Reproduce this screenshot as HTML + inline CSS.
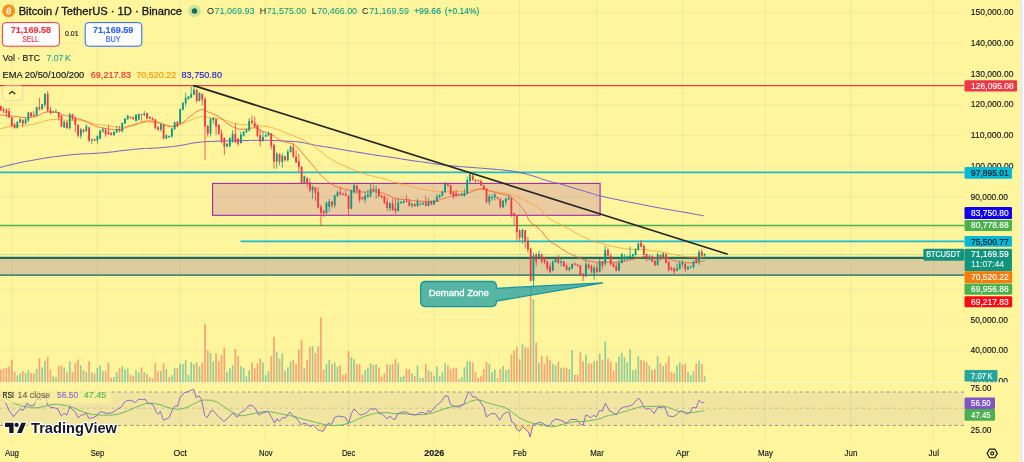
<!DOCTYPE html>
<html><head><meta charset="utf-8"><title>BTCUSDT chart</title>
<style>
html,body{margin:0;padding:0;background:#FFF59D;}
body{width:1024px;height:462px;overflow:hidden;position:relative;font-family:"Liberation Sans",sans-serif;}
svg text{font-family:"Liberation Sans",sans-serif;}
</style></head><body>
<svg width="1024" height="462" viewBox="0 0 1024 462" style="position:absolute;left:0;top:0;will-change:transform;transform:translateZ(0)">
<defs><clipPath id="cpMain"><rect x="0" y="0" width="964.5" height="382.5"/></clipPath><clipPath id="cpAx"><rect x="964" y="0" width="60" height="382.3"/></clipPath></defs>
<rect x="0" y="0" width="1024" height="462" fill="#FFFFFF"/>
<path d="M1016 0H1020.5Q1022.8 0.3 1022.8 3V462H1016Z" fill="#E9E9EE"/>
<path d="M0 0H1018Q1020 0 1020 2V462H0Z" fill="#FFF59D"/>
<line x1="11.8" y1="0" x2="11.8" y2="443" stroke="#787B86" stroke-width="1" opacity=".1"/>
<line x1="97.4" y1="0" x2="97.4" y2="443" stroke="#787B86" stroke-width="1" opacity=".1"/>
<line x1="180.2" y1="0" x2="180.2" y2="443" stroke="#787B86" stroke-width="1" opacity=".1"/>
<line x1="265.7" y1="0" x2="265.7" y2="443" stroke="#787B86" stroke-width="1" opacity=".1"/>
<line x1="348.5" y1="0" x2="348.5" y2="443" stroke="#787B86" stroke-width="1" opacity=".1"/>
<line x1="434.1" y1="0" x2="434.1" y2="443" stroke="#787B86" stroke-width="1" opacity=".1"/>
<line x1="519.6" y1="0" x2="519.6" y2="443" stroke="#787B86" stroke-width="1" opacity=".1"/>
<line x1="596.9" y1="0" x2="596.9" y2="443" stroke="#787B86" stroke-width="1" opacity=".1"/>
<line x1="682.5" y1="0" x2="682.5" y2="443" stroke="#787B86" stroke-width="1" opacity=".1"/>
<line x1="765.3" y1="0" x2="765.3" y2="443" stroke="#787B86" stroke-width="1" opacity=".1"/>
<line x1="850.8" y1="0" x2="850.8" y2="443" stroke="#787B86" stroke-width="1" opacity=".1"/>
<line x1="933.6" y1="0" x2="933.6" y2="443" stroke="#787B86" stroke-width="1" opacity=".1"/>
<line x1="0" y1="350.8" x2="964" y2="350.8" stroke="#787B86" stroke-width="1" opacity=".08"/>
<line x1="0" y1="320.0" x2="964" y2="320.0" stroke="#787B86" stroke-width="1" opacity=".08"/>
<line x1="0" y1="289.2" x2="964" y2="289.2" stroke="#787B86" stroke-width="1" opacity=".08"/>
<line x1="0" y1="258.5" x2="964" y2="258.5" stroke="#787B86" stroke-width="1" opacity=".08"/>
<line x1="0" y1="227.8" x2="964" y2="227.8" stroke="#787B86" stroke-width="1" opacity=".08"/>
<line x1="0" y1="197.0" x2="964" y2="197.0" stroke="#787B86" stroke-width="1" opacity=".08"/>
<line x1="0" y1="166.2" x2="964" y2="166.2" stroke="#787B86" stroke-width="1" opacity=".08"/>
<line x1="0" y1="135.5" x2="964" y2="135.5" stroke="#787B86" stroke-width="1" opacity=".08"/>
<line x1="0" y1="104.8" x2="964" y2="104.8" stroke="#787B86" stroke-width="1" opacity=".08"/>
<line x1="0" y1="74.0" x2="964" y2="74.0" stroke="#787B86" stroke-width="1" opacity=".08"/>
<line x1="0" y1="43.2" x2="964" y2="43.2" stroke="#787B86" stroke-width="1" opacity=".08"/>
<line x1="0" y1="12.5" x2="964" y2="12.5" stroke="#787B86" stroke-width="1" opacity=".08"/>
<rect x="0" y="382" width="1020" height="1" fill="#FBF7C8"/>
<g clip-path="url(#cpMain)">
<rect x="-0.09" y="369.44" width="1.7" height="12.86" fill="#EF5350" fill-opacity=".5"/>
<rect x="2.67" y="368.30" width="1.7" height="14.00" fill="#EF5350" fill-opacity=".5"/>
<rect x="5.43" y="367.73" width="1.7" height="14.57" fill="#EF5350" fill-opacity=".5"/>
<rect x="8.19" y="366.59" width="1.7" height="15.71" fill="#EF5350" fill-opacity=".5"/>
<rect x="10.95" y="359.73" width="1.7" height="22.57" fill="#EF5350" fill-opacity=".5"/>
<rect x="13.71" y="372.01" width="1.7" height="10.29" fill="#EF5350" fill-opacity=".5"/>
<rect x="16.47" y="375.16" width="1.7" height="7.14" fill="#26A69A" fill-opacity=".5"/>
<rect x="19.23" y="373.44" width="1.7" height="8.86" fill="#26A69A" fill-opacity=".5"/>
<rect x="21.99" y="371.16" width="1.7" height="11.14" fill="#EF5350" fill-opacity=".5"/>
<rect x="24.75" y="373.01" width="1.7" height="9.29" fill="#26A69A" fill-opacity=".5"/>
<rect x="27.51" y="370.16" width="1.7" height="12.14" fill="#26A69A" fill-opacity=".5"/>
<rect x="30.27" y="373.01" width="1.7" height="9.29" fill="#EF5350" fill-opacity=".5"/>
<rect x="33.03" y="373.44" width="1.7" height="8.86" fill="#EF5350" fill-opacity=".5"/>
<rect x="35.79" y="369.01" width="1.7" height="13.29" fill="#26A69A" fill-opacity=".5"/>
<rect x="38.55" y="358.30" width="1.7" height="24.00" fill="#EF5350" fill-opacity=".5"/>
<rect x="41.31" y="367.30" width="1.7" height="15.00" fill="#26A69A" fill-opacity=".5"/>
<rect x="44.07" y="360.87" width="1.7" height="21.43" fill="#26A69A" fill-opacity=".5"/>
<rect x="46.83" y="356.87" width="1.7" height="25.43" fill="#EF5350" fill-opacity=".5"/>
<rect x="49.59" y="369.44" width="1.7" height="12.86" fill="#EF5350" fill-opacity=".5"/>
<rect x="52.35" y="376.30" width="1.7" height="6.00" fill="#26A69A" fill-opacity=".5"/>
<rect x="55.11" y="377.01" width="1.7" height="5.29" fill="#26A69A" fill-opacity=".5"/>
<rect x="57.87" y="366.16" width="1.7" height="16.14" fill="#EF5350" fill-opacity=".5"/>
<rect x="60.63" y="365.44" width="1.7" height="16.86" fill="#EF5350" fill-opacity=".5"/>
<rect x="63.39" y="367.73" width="1.7" height="14.57" fill="#26A69A" fill-opacity=".5"/>
<rect x="66.15" y="372.30" width="1.7" height="10.00" fill="#EF5350" fill-opacity=".5"/>
<rect x="68.91" y="361.30" width="1.7" height="21.00" fill="#26A69A" fill-opacity=".5"/>
<rect x="71.67" y="371.87" width="1.7" height="10.43" fill="#EF5350" fill-opacity=".5"/>
<rect x="74.43" y="363.30" width="1.7" height="19.00" fill="#EF5350" fill-opacity=".5"/>
<rect x="77.19" y="359.44" width="1.7" height="22.86" fill="#EF5350" fill-opacity=".5"/>
<rect x="79.95" y="365.44" width="1.7" height="16.86" fill="#26A69A" fill-opacity=".5"/>
<rect x="82.71" y="370.16" width="1.7" height="12.14" fill="#EF5350" fill-opacity=".5"/>
<rect x="85.47" y="372.01" width="1.7" height="10.29" fill="#26A69A" fill-opacity=".5"/>
<rect x="88.23" y="361.30" width="1.7" height="21.00" fill="#EF5350" fill-opacity=".5"/>
<rect x="90.99" y="372.30" width="1.7" height="10.00" fill="#26A69A" fill-opacity=".5"/>
<rect x="93.75" y="373.44" width="1.7" height="8.86" fill="#EF5350" fill-opacity=".5"/>
<rect x="96.51" y="367.73" width="1.7" height="14.57" fill="#26A69A" fill-opacity=".5"/>
<rect x="99.27" y="365.44" width="1.7" height="16.86" fill="#26A69A" fill-opacity=".5"/>
<rect x="102.03" y="371.16" width="1.7" height="11.14" fill="#26A69A" fill-opacity=".5"/>
<rect x="104.79" y="371.16" width="1.7" height="11.14" fill="#EF5350" fill-opacity=".5"/>
<rect x="107.55" y="362.59" width="1.7" height="19.71" fill="#EF5350" fill-opacity=".5"/>
<rect x="110.31" y="377.59" width="1.7" height="4.71" fill="#EF5350" fill-opacity=".5"/>
<rect x="113.07" y="377.01" width="1.7" height="5.29" fill="#26A69A" fill-opacity=".5"/>
<rect x="115.83" y="371.87" width="1.7" height="10.43" fill="#26A69A" fill-opacity=".5"/>
<rect x="118.59" y="368.30" width="1.7" height="14.00" fill="#EF5350" fill-opacity=".5"/>
<rect x="121.35" y="366.16" width="1.7" height="16.14" fill="#26A69A" fill-opacity=".5"/>
<rect x="124.11" y="369.44" width="1.7" height="12.86" fill="#26A69A" fill-opacity=".5"/>
<rect x="126.87" y="368.30" width="1.7" height="14.00" fill="#26A69A" fill-opacity=".5"/>
<rect x="129.63" y="374.73" width="1.7" height="7.57" fill="#EF5350" fill-opacity=".5"/>
<rect x="132.39" y="375.87" width="1.7" height="6.43" fill="#EF5350" fill-opacity=".5"/>
<rect x="135.15" y="370.16" width="1.7" height="12.14" fill="#26A69A" fill-opacity=".5"/>
<rect x="137.91" y="372.30" width="1.7" height="10.00" fill="#26A69A" fill-opacity=".5"/>
<rect x="140.67" y="367.30" width="1.7" height="15.00" fill="#EF5350" fill-opacity=".5"/>
<rect x="143.43" y="372.01" width="1.7" height="10.29" fill="#26A69A" fill-opacity=".5"/>
<rect x="146.19" y="374.01" width="1.7" height="8.29" fill="#EF5350" fill-opacity=".5"/>
<rect x="148.95" y="377.30" width="1.7" height="5.00" fill="#26A69A" fill-opacity=".5"/>
<rect x="151.71" y="378.01" width="1.7" height="4.29" fill="#EF5350" fill-opacity=".5"/>
<rect x="154.47" y="363.30" width="1.7" height="19.00" fill="#EF5350" fill-opacity=".5"/>
<rect x="157.23" y="371.16" width="1.7" height="11.14" fill="#EF5350" fill-opacity=".5"/>
<rect x="159.99" y="370.59" width="1.7" height="11.71" fill="#26A69A" fill-opacity=".5"/>
<rect x="162.75" y="363.30" width="1.7" height="19.00" fill="#EF5350" fill-opacity=".5"/>
<rect x="165.51" y="369.01" width="1.7" height="13.29" fill="#26A69A" fill-opacity=".5"/>
<rect x="168.27" y="377.01" width="1.7" height="5.29" fill="#EF5350" fill-opacity=".5"/>
<rect x="171.03" y="375.16" width="1.7" height="7.14" fill="#26A69A" fill-opacity=".5"/>
<rect x="173.79" y="367.73" width="1.7" height="14.57" fill="#26A69A" fill-opacity=".5"/>
<rect x="176.55" y="368.01" width="1.7" height="14.29" fill="#EF5350" fill-opacity=".5"/>
<rect x="179.31" y="363.73" width="1.7" height="18.57" fill="#26A69A" fill-opacity=".5"/>
<rect x="182.07" y="364.16" width="1.7" height="18.14" fill="#26A69A" fill-opacity=".5"/>
<rect x="184.83" y="360.16" width="1.7" height="22.14" fill="#26A69A" fill-opacity=".5"/>
<rect x="187.59" y="374.73" width="1.7" height="7.57" fill="#26A69A" fill-opacity=".5"/>
<rect x="190.35" y="362.01" width="1.7" height="20.29" fill="#26A69A" fill-opacity=".5"/>
<rect x="193.11" y="364.16" width="1.7" height="18.14" fill="#26A69A" fill-opacity=".5"/>
<rect x="195.87" y="362.59" width="1.7" height="19.71" fill="#EF5350" fill-opacity=".5"/>
<rect x="198.63" y="366.59" width="1.7" height="15.71" fill="#26A69A" fill-opacity=".5"/>
<rect x="201.39" y="362.59" width="1.7" height="19.71" fill="#EF5350" fill-opacity=".5"/>
<rect x="204.15" y="324.01" width="1.7" height="58.29" fill="#EF5350" fill-opacity=".5"/>
<rect x="206.91" y="350.16" width="1.7" height="32.14" fill="#EF5350" fill-opacity=".5"/>
<rect x="209.67" y="353.01" width="1.7" height="29.29" fill="#26A69A" fill-opacity=".5"/>
<rect x="212.43" y="361.30" width="1.7" height="21.00" fill="#26A69A" fill-opacity=".5"/>
<rect x="215.19" y="353.30" width="1.7" height="29.00" fill="#EF5350" fill-opacity=".5"/>
<rect x="217.95" y="361.30" width="1.7" height="21.00" fill="#EF5350" fill-opacity=".5"/>
<rect x="220.71" y="355.16" width="1.7" height="27.14" fill="#EF5350" fill-opacity=".5"/>
<rect x="223.47" y="347.73" width="1.7" height="34.57" fill="#EF5350" fill-opacity=".5"/>
<rect x="226.23" y="371.87" width="1.7" height="10.43" fill="#26A69A" fill-opacity=".5"/>
<rect x="228.99" y="368.30" width="1.7" height="14.00" fill="#26A69A" fill-opacity=".5"/>
<rect x="231.75" y="364.87" width="1.7" height="17.43" fill="#26A69A" fill-opacity=".5"/>
<rect x="234.51" y="349.01" width="1.7" height="33.29" fill="#EF5350" fill-opacity=".5"/>
<rect x="237.27" y="356.16" width="1.7" height="26.14" fill="#EF5350" fill-opacity=".5"/>
<rect x="240.03" y="366.16" width="1.7" height="16.14" fill="#26A69A" fill-opacity=".5"/>
<rect x="242.79" y="368.30" width="1.7" height="14.00" fill="#26A69A" fill-opacity=".5"/>
<rect x="245.55" y="376.30" width="1.7" height="6.00" fill="#26A69A" fill-opacity=".5"/>
<rect x="248.31" y="370.16" width="1.7" height="12.14" fill="#26A69A" fill-opacity=".5"/>
<rect x="251.07" y="362.59" width="1.7" height="19.71" fill="#EF5350" fill-opacity=".5"/>
<rect x="253.83" y="368.01" width="1.7" height="14.29" fill="#EF5350" fill-opacity=".5"/>
<rect x="256.59" y="363.30" width="1.7" height="19.00" fill="#EF5350" fill-opacity=".5"/>
<rect x="259.35" y="358.73" width="1.7" height="23.57" fill="#EF5350" fill-opacity=".5"/>
<rect x="262.11" y="362.59" width="1.7" height="19.71" fill="#26A69A" fill-opacity=".5"/>
<rect x="264.87" y="375.16" width="1.7" height="7.14" fill="#26A69A" fill-opacity=".5"/>
<rect x="267.63" y="371.30" width="1.7" height="11.00" fill="#26A69A" fill-opacity=".5"/>
<rect x="270.39" y="356.16" width="1.7" height="26.14" fill="#EF5350" fill-opacity=".5"/>
<rect x="273.15" y="336.87" width="1.7" height="45.43" fill="#EF5350" fill-opacity=".5"/>
<rect x="275.91" y="351.87" width="1.7" height="30.43" fill="#26A69A" fill-opacity=".5"/>
<rect x="278.67" y="358.73" width="1.7" height="23.57" fill="#EF5350" fill-opacity=".5"/>
<rect x="281.43" y="353.30" width="1.7" height="29.00" fill="#26A69A" fill-opacity=".5"/>
<rect x="284.19" y="370.59" width="1.7" height="11.71" fill="#EF5350" fill-opacity=".5"/>
<rect x="286.95" y="367.30" width="1.7" height="15.00" fill="#26A69A" fill-opacity=".5"/>
<rect x="289.71" y="361.30" width="1.7" height="21.00" fill="#26A69A" fill-opacity=".5"/>
<rect x="292.47" y="360.16" width="1.7" height="22.14" fill="#EF5350" fill-opacity=".5"/>
<rect x="295.23" y="364.01" width="1.7" height="18.29" fill="#EF5350" fill-opacity=".5"/>
<rect x="297.99" y="349.44" width="1.7" height="32.86" fill="#EF5350" fill-opacity=".5"/>
<rect x="300.75" y="339.73" width="1.7" height="42.57" fill="#EF5350" fill-opacity=".5"/>
<rect x="303.51" y="368.30" width="1.7" height="14.00" fill="#26A69A" fill-opacity=".5"/>
<rect x="306.27" y="360.16" width="1.7" height="22.14" fill="#EF5350" fill-opacity=".5"/>
<rect x="309.03" y="346.59" width="1.7" height="35.71" fill="#EF5350" fill-opacity=".5"/>
<rect x="311.79" y="346.16" width="1.7" height="36.14" fill="#26A69A" fill-opacity=".5"/>
<rect x="314.55" y="353.01" width="1.7" height="29.29" fill="#EF5350" fill-opacity=".5"/>
<rect x="317.31" y="346.59" width="1.7" height="35.71" fill="#EF5350" fill-opacity=".5"/>
<rect x="320.07" y="317.30" width="1.7" height="65.00" fill="#EF5350" fill-opacity=".5"/>
<rect x="322.83" y="369.44" width="1.7" height="12.86" fill="#EF5350" fill-opacity=".5"/>
<rect x="325.59" y="364.16" width="1.7" height="18.14" fill="#26A69A" fill-opacity=".5"/>
<rect x="328.35" y="359.73" width="1.7" height="22.57" fill="#26A69A" fill-opacity=".5"/>
<rect x="331.11" y="364.16" width="1.7" height="18.14" fill="#EF5350" fill-opacity=".5"/>
<rect x="333.87" y="362.59" width="1.7" height="19.71" fill="#26A69A" fill-opacity=".5"/>
<rect x="336.63" y="366.59" width="1.7" height="15.71" fill="#26A69A" fill-opacity=".5"/>
<rect x="339.39" y="365.16" width="1.7" height="17.14" fill="#EF5350" fill-opacity=".5"/>
<rect x="342.15" y="375.16" width="1.7" height="7.14" fill="#EF5350" fill-opacity=".5"/>
<rect x="344.91" y="373.44" width="1.7" height="8.86" fill="#EF5350" fill-opacity=".5"/>
<rect x="347.67" y="351.16" width="1.7" height="31.14" fill="#EF5350" fill-opacity=".5"/>
<rect x="350.43" y="356.87" width="1.7" height="25.43" fill="#26A69A" fill-opacity=".5"/>
<rect x="353.19" y="359.16" width="1.7" height="23.14" fill="#26A69A" fill-opacity=".5"/>
<rect x="355.95" y="364.16" width="1.7" height="18.14" fill="#EF5350" fill-opacity=".5"/>
<rect x="358.71" y="364.16" width="1.7" height="18.14" fill="#EF5350" fill-opacity=".5"/>
<rect x="361.47" y="374.73" width="1.7" height="7.57" fill="#EF5350" fill-opacity=".5"/>
<rect x="364.23" y="370.16" width="1.7" height="12.14" fill="#26A69A" fill-opacity=".5"/>
<rect x="366.99" y="367.73" width="1.7" height="14.57" fill="#26A69A" fill-opacity=".5"/>
<rect x="369.75" y="363.30" width="1.7" height="19.00" fill="#26A69A" fill-opacity=".5"/>
<rect x="372.51" y="364.87" width="1.7" height="17.43" fill="#EF5350" fill-opacity=".5"/>
<rect x="375.27" y="364.16" width="1.7" height="18.14" fill="#26A69A" fill-opacity=".5"/>
<rect x="378.03" y="367.30" width="1.7" height="15.00" fill="#EF5350" fill-opacity=".5"/>
<rect x="380.79" y="376.87" width="1.7" height="5.43" fill="#EF5350" fill-opacity=".5"/>
<rect x="383.55" y="373.44" width="1.7" height="8.86" fill="#EF5350" fill-opacity=".5"/>
<rect x="386.31" y="364.16" width="1.7" height="18.14" fill="#EF5350" fill-opacity=".5"/>
<rect x="389.07" y="365.16" width="1.7" height="17.14" fill="#26A69A" fill-opacity=".5"/>
<rect x="391.83" y="364.16" width="1.7" height="18.14" fill="#EF5350" fill-opacity=".5"/>
<rect x="394.59" y="359.16" width="1.7" height="23.14" fill="#EF5350" fill-opacity=".5"/>
<rect x="397.35" y="363.30" width="1.7" height="19.00" fill="#26A69A" fill-opacity=".5"/>
<rect x="400.11" y="377.01" width="1.7" height="5.29" fill="#26A69A" fill-opacity=".5"/>
<rect x="402.87" y="375.59" width="1.7" height="6.71" fill="#26A69A" fill-opacity=".5"/>
<rect x="405.63" y="368.73" width="1.7" height="13.57" fill="#EF5350" fill-opacity=".5"/>
<rect x="408.39" y="369.44" width="1.7" height="12.86" fill="#EF5350" fill-opacity=".5"/>
<rect x="411.15" y="373.44" width="1.7" height="8.86" fill="#26A69A" fill-opacity=".5"/>
<rect x="413.91" y="375.87" width="1.7" height="6.43" fill="#EF5350" fill-opacity=".5"/>
<rect x="416.67" y="365.44" width="1.7" height="16.86" fill="#26A69A" fill-opacity=".5"/>
<rect x="419.43" y="378.01" width="1.7" height="4.29" fill="#26A69A" fill-opacity=".5"/>
<rect x="422.19" y="378.01" width="1.7" height="4.29" fill="#26A69A" fill-opacity=".5"/>
<rect x="424.95" y="364.16" width="1.7" height="18.14" fill="#EF5350" fill-opacity=".5"/>
<rect x="427.71" y="370.16" width="1.7" height="12.14" fill="#26A69A" fill-opacity=".5"/>
<rect x="430.47" y="371.87" width="1.7" height="10.43" fill="#EF5350" fill-opacity=".5"/>
<rect x="433.23" y="375.87" width="1.7" height="6.43" fill="#26A69A" fill-opacity=".5"/>
<rect x="435.99" y="366.59" width="1.7" height="15.71" fill="#26A69A" fill-opacity=".5"/>
<rect x="438.75" y="375.87" width="1.7" height="6.43" fill="#26A69A" fill-opacity=".5"/>
<rect x="441.51" y="372.30" width="1.7" height="10.00" fill="#26A69A" fill-opacity=".5"/>
<rect x="444.27" y="363.30" width="1.7" height="19.00" fill="#26A69A" fill-opacity=".5"/>
<rect x="447.03" y="365.44" width="1.7" height="16.86" fill="#EF5350" fill-opacity=".5"/>
<rect x="449.79" y="369.01" width="1.7" height="13.29" fill="#EF5350" fill-opacity=".5"/>
<rect x="452.55" y="367.73" width="1.7" height="14.57" fill="#EF5350" fill-opacity=".5"/>
<rect x="455.31" y="367.73" width="1.7" height="14.57" fill="#EF5350" fill-opacity=".5"/>
<rect x="458.07" y="379.16" width="1.7" height="3.14" fill="#EF5350" fill-opacity=".5"/>
<rect x="460.83" y="377.01" width="1.7" height="5.29" fill="#26A69A" fill-opacity=".5"/>
<rect x="463.59" y="367.30" width="1.7" height="15.00" fill="#26A69A" fill-opacity=".5"/>
<rect x="466.35" y="361.30" width="1.7" height="21.00" fill="#26A69A" fill-opacity=".5"/>
<rect x="469.11" y="361.30" width="1.7" height="21.00" fill="#26A69A" fill-opacity=".5"/>
<rect x="471.87" y="362.59" width="1.7" height="19.71" fill="#EF5350" fill-opacity=".5"/>
<rect x="474.63" y="371.87" width="1.7" height="10.43" fill="#EF5350" fill-opacity=".5"/>
<rect x="477.39" y="378.01" width="1.7" height="4.29" fill="#EF5350" fill-opacity=".5"/>
<rect x="480.15" y="375.87" width="1.7" height="6.43" fill="#EF5350" fill-opacity=".5"/>
<rect x="482.91" y="369.01" width="1.7" height="13.29" fill="#EF5350" fill-opacity=".5"/>
<rect x="485.67" y="362.01" width="1.7" height="20.29" fill="#EF5350" fill-opacity=".5"/>
<rect x="488.43" y="363.73" width="1.7" height="18.57" fill="#26A69A" fill-opacity=".5"/>
<rect x="491.19" y="372.30" width="1.7" height="10.00" fill="#26A69A" fill-opacity=".5"/>
<rect x="493.95" y="369.44" width="1.7" height="12.86" fill="#26A69A" fill-opacity=".5"/>
<rect x="496.71" y="378.01" width="1.7" height="4.29" fill="#EF5350" fill-opacity=".5"/>
<rect x="499.47" y="369.01" width="1.7" height="13.29" fill="#EF5350" fill-opacity=".5"/>
<rect x="502.23" y="366.16" width="1.7" height="16.14" fill="#26A69A" fill-opacity=".5"/>
<rect x="504.99" y="370.16" width="1.7" height="12.14" fill="#26A69A" fill-opacity=".5"/>
<rect x="507.75" y="369.01" width="1.7" height="13.29" fill="#26A69A" fill-opacity=".5"/>
<rect x="510.51" y="354.73" width="1.7" height="27.57" fill="#EF5350" fill-opacity=".5"/>
<rect x="513.27" y="350.59" width="1.7" height="31.71" fill="#EF5350" fill-opacity=".5"/>
<rect x="516.03" y="346.59" width="1.7" height="35.71" fill="#EF5350" fill-opacity=".5"/>
<rect x="518.79" y="359.16" width="1.7" height="23.14" fill="#EF5350" fill-opacity=".5"/>
<rect x="521.55" y="344.16" width="1.7" height="38.14" fill="#26A69A" fill-opacity=".5"/>
<rect x="524.31" y="347.01" width="1.7" height="35.29" fill="#EF5350" fill-opacity=".5"/>
<rect x="527.07" y="347.73" width="1.7" height="34.57" fill="#EF5350" fill-opacity=".5"/>
<rect x="529.83" y="286.59" width="1.7" height="95.71" fill="#EF5350" fill-opacity=".5"/>
<rect x="532.59" y="299.01" width="1.7" height="83.29" fill="#26A69A" fill-opacity=".5"/>
<rect x="535.35" y="342.59" width="1.7" height="39.71" fill="#EF5350" fill-opacity=".5"/>
<rect x="538.11" y="362.59" width="1.7" height="19.71" fill="#26A69A" fill-opacity=".5"/>
<rect x="540.87" y="355.87" width="1.7" height="26.43" fill="#EF5350" fill-opacity=".5"/>
<rect x="543.63" y="363.73" width="1.7" height="18.57" fill="#EF5350" fill-opacity=".5"/>
<rect x="546.39" y="356.30" width="1.7" height="26.00" fill="#EF5350" fill-opacity=".5"/>
<rect x="549.15" y="360.16" width="1.7" height="22.14" fill="#EF5350" fill-opacity=".5"/>
<rect x="551.91" y="363.73" width="1.7" height="18.57" fill="#26A69A" fill-opacity=".5"/>
<rect x="554.67" y="365.44" width="1.7" height="16.86" fill="#26A69A" fill-opacity=".5"/>
<rect x="557.43" y="362.01" width="1.7" height="20.29" fill="#EF5350" fill-opacity=".5"/>
<rect x="560.19" y="367.73" width="1.7" height="14.57" fill="#26A69A" fill-opacity=".5"/>
<rect x="562.95" y="367.30" width="1.7" height="15.00" fill="#EF5350" fill-opacity=".5"/>
<rect x="565.71" y="368.01" width="1.7" height="14.29" fill="#EF5350" fill-opacity=".5"/>
<rect x="568.47" y="369.01" width="1.7" height="13.29" fill="#26A69A" fill-opacity=".5"/>
<rect x="571.23" y="350.16" width="1.7" height="32.14" fill="#26A69A" fill-opacity=".5"/>
<rect x="573.99" y="374.73" width="1.7" height="7.57" fill="#EF5350" fill-opacity=".5"/>
<rect x="576.75" y="374.73" width="1.7" height="7.57" fill="#EF5350" fill-opacity=".5"/>
<rect x="579.51" y="352.30" width="1.7" height="30.00" fill="#EF5350" fill-opacity=".5"/>
<rect x="582.27" y="361.30" width="1.7" height="21.00" fill="#EF5350" fill-opacity=".5"/>
<rect x="585.03" y="354.73" width="1.7" height="27.57" fill="#26A69A" fill-opacity=".5"/>
<rect x="587.79" y="363.30" width="1.7" height="19.00" fill="#EF5350" fill-opacity=".5"/>
<rect x="590.55" y="363.30" width="1.7" height="19.00" fill="#EF5350" fill-opacity=".5"/>
<rect x="593.31" y="361.30" width="1.7" height="21.00" fill="#26A69A" fill-opacity=".5"/>
<rect x="596.07" y="360.87" width="1.7" height="21.43" fill="#EF5350" fill-opacity=".5"/>
<rect x="598.83" y="353.44" width="1.7" height="28.86" fill="#26A69A" fill-opacity=".5"/>
<rect x="601.59" y="359.87" width="1.7" height="22.43" fill="#EF5350" fill-opacity=".5"/>
<rect x="604.35" y="341.30" width="1.7" height="41.00" fill="#26A69A" fill-opacity=".5"/>
<rect x="607.11" y="358.30" width="1.7" height="24.00" fill="#EF5350" fill-opacity=".5"/>
<rect x="609.87" y="361.30" width="1.7" height="21.00" fill="#EF5350" fill-opacity=".5"/>
<rect x="612.63" y="370.87" width="1.7" height="11.43" fill="#EF5350" fill-opacity=".5"/>
<rect x="615.39" y="362.59" width="1.7" height="19.71" fill="#EF5350" fill-opacity=".5"/>
<rect x="618.15" y="356.30" width="1.7" height="26.00" fill="#26A69A" fill-opacity=".5"/>
<rect x="620.91" y="353.01" width="1.7" height="29.29" fill="#26A69A" fill-opacity=".5"/>
<rect x="623.67" y="357.30" width="1.7" height="25.00" fill="#26A69A" fill-opacity=".5"/>
<rect x="626.43" y="362.30" width="1.7" height="20.00" fill="#26A69A" fill-opacity=".5"/>
<rect x="629.19" y="349.44" width="1.7" height="32.86" fill="#26A69A" fill-opacity=".5"/>
<rect x="631.95" y="370.16" width="1.7" height="12.14" fill="#26A69A" fill-opacity=".5"/>
<rect x="634.71" y="369.44" width="1.7" height="12.86" fill="#26A69A" fill-opacity=".5"/>
<rect x="637.47" y="356.30" width="1.7" height="26.00" fill="#26A69A" fill-opacity=".5"/>
<rect x="640.23" y="359.87" width="1.7" height="22.43" fill="#EF5350" fill-opacity=".5"/>
<rect x="642.99" y="360.87" width="1.7" height="21.43" fill="#EF5350" fill-opacity=".5"/>
<rect x="645.75" y="362.30" width="1.7" height="20.00" fill="#EF5350" fill-opacity=".5"/>
<rect x="648.51" y="365.44" width="1.7" height="16.86" fill="#26A69A" fill-opacity=".5"/>
<rect x="651.27" y="370.16" width="1.7" height="12.14" fill="#EF5350" fill-opacity=".5"/>
<rect x="654.03" y="369.01" width="1.7" height="13.29" fill="#EF5350" fill-opacity=".5"/>
<rect x="656.79" y="356.30" width="1.7" height="26.00" fill="#26A69A" fill-opacity=".5"/>
<rect x="659.55" y="363.30" width="1.7" height="19.00" fill="#EF5350" fill-opacity=".5"/>
<rect x="662.31" y="366.16" width="1.7" height="16.14" fill="#26A69A" fill-opacity=".5"/>
<rect x="665.07" y="363.30" width="1.7" height="19.00" fill="#EF5350" fill-opacity=".5"/>
<rect x="667.83" y="356.30" width="1.7" height="26.00" fill="#EF5350" fill-opacity=".5"/>
<rect x="670.59" y="372.01" width="1.7" height="10.29" fill="#EF5350" fill-opacity=".5"/>
<rect x="673.35" y="373.01" width="1.7" height="9.29" fill="#EF5350" fill-opacity=".5"/>
<rect x="676.11" y="365.44" width="1.7" height="16.86" fill="#26A69A" fill-opacity=".5"/>
<rect x="678.87" y="362.30" width="1.7" height="20.00" fill="#26A69A" fill-opacity=".5"/>
<rect x="681.63" y="364.87" width="1.7" height="17.43" fill="#EF5350" fill-opacity=".5"/>
<rect x="684.39" y="363.73" width="1.7" height="18.57" fill="#EF5350" fill-opacity=".5"/>
<rect x="687.15" y="372.01" width="1.7" height="10.29" fill="#26A69A" fill-opacity=".5"/>
<rect x="689.91" y="375.16" width="1.7" height="7.14" fill="#26A69A" fill-opacity=".5"/>
<rect x="692.67" y="371.30" width="1.7" height="11.00" fill="#26A69A" fill-opacity=".5"/>
<rect x="695.43" y="363.73" width="1.7" height="18.57" fill="#EF5350" fill-opacity=".5"/>
<rect x="698.19" y="360.87" width="1.7" height="21.43" fill="#26A69A" fill-opacity=".5"/>
<rect x="700.95" y="364.16" width="1.7" height="18.14" fill="#EF5350" fill-opacity=".5"/>
<rect x="703.71" y="375.87" width="1.7" height="6.43" fill="#26A69A" fill-opacity=".5"/>
<line x1="0" y1="85.6" x2="964.5" y2="85.6" stroke="#F23645" stroke-width="1.3"/>
<line x1="0" y1="172.4" x2="964.5" y2="172.4" stroke="#1BBCD0" stroke-width="1.6"/>
<line x1="0" y1="225.5" x2="964.5" y2="225.5" stroke="#4CAF50" stroke-width="1.4"/>
<line x1="240.5" y1="241.4" x2="964.5" y2="241.4" stroke="#1BBCD0" stroke-width="1.6"/>
<rect x="212.6" y="183.4" width="387.5" height="31.9" fill="#9C27B0" fill-opacity=".2" stroke="#9C27B0" stroke-width="1.1"/>
<rect x="0" y="258.2" width="964.5" height="17" fill="#512DA8" fill-opacity=".2"/>
<line x1="0" y1="257.9" x2="964.5" y2="257.9" stroke="#1F6B5C" stroke-width="2.4"/>
<line x1="0" y1="275.1" x2="964.5" y2="275.1" stroke="#4A8A76" stroke-width="1.8"/>
<line x1="0" y1="254.6" x2="923" y2="254.6" stroke="#089981" stroke-width=".8" stroke-dasharray="1.2 1.4" opacity=".55"/>
<path fill="none" stroke="#6A5FCB" stroke-width="1" d="M0.0 167.5C5.2 166.2 5.2 165.9 15.6 163.6C26.0 161.3 20.9 162.4 31.3 160.5C41.7 158.6 36.5 159.4 46.9 157.8C57.3 156.2 52.1 157.0 62.5 155.8C72.9 154.6 67.7 155.0 78.1 154.2C88.5 153.4 83.4 154.1 93.8 153.4C104.2 152.7 99.0 153.2 109.4 152.2C119.8 151.2 114.6 151.4 125.0 150.3C135.4 149.2 132.3 149.5 140.6 148.8C148.9 148.1 141.7 148.8 150.0 148.3C158.3 147.8 155.2 148.2 165.6 147.2C176.0 146.2 170.9 146.9 181.3 145.3C191.7 143.7 186.5 143.8 196.9 142.5C207.3 141.2 202.1 141.9 212.5 141.4C222.9 140.9 217.7 141.2 228.1 140.9C238.5 140.6 233.4 140.8 243.8 140.6C254.2 140.4 249.0 140.3 259.4 140.3C269.8 140.3 264.6 140.2 275.0 140.6C285.4 141.0 282.3 140.9 290.6 141.4C298.9 141.9 293.5 141.3 300.0 142.2C306.5 143.1 303.3 142.8 310.0 144.1C316.7 145.4 313.3 144.9 320.0 146.0C326.7 147.1 321.5 146.1 330.0 147.5C338.5 148.9 335.2 148.4 345.6 150.2C356.0 152.0 350.9 151.1 361.3 152.8C371.7 154.5 366.5 153.7 376.9 155.3C387.3 156.9 382.1 155.9 392.5 157.5C402.9 159.1 397.7 158.4 408.1 160.0C418.5 161.6 413.4 160.7 423.8 162.2C434.2 163.7 429.0 163.2 439.4 164.5C449.8 165.8 444.6 165.1 455.0 166.1C465.4 167.1 458.9 166.5 470.6 167.4C482.3 168.3 478.3 167.9 490.0 168.9C501.7 169.9 495.7 169.1 505.7 170.3C515.7 171.5 510.5 170.6 520.0 172.6C529.5 174.6 524.8 173.6 534.3 176.4C543.8 179.2 540.0 178.6 548.6 181.1C557.2 183.6 551.0 181.4 560.0 183.9C569.0 186.4 565.2 185.5 575.6 188.6C586.0 191.7 583.0 190.8 591.3 193.3C599.6 195.8 590.2 193.5 600.6 196.0C611.0 198.5 610.0 198.1 622.5 200.7C635.0 203.3 627.7 201.7 638.1 203.8C648.5 205.9 643.4 204.9 653.8 206.9C664.2 208.9 659.0 207.9 669.4 209.7C679.8 211.5 673.5 210.4 685.0 212.4C696.5 214.4 697.5 214.7 703.8 215.8"/>
<path fill="none" stroke="#FFA028" stroke-width="1" opacity=".8" d="M0.0 128.7C4.2 127.9 4.1 127.5 12.5 126.4C20.9 125.3 19.3 125.8 25.1 125.3C30.9 124.8 25.8 125.6 30.0 124.9C34.2 124.2 32.6 124.5 37.8 123.1C43.0 121.7 40.4 122.0 45.6 120.8C50.8 119.6 48.7 120.0 53.4 119.6C58.1 119.2 55.5 119.3 59.7 119.5C63.9 119.7 61.7 120.1 65.9 120.3C70.1 120.5 68.0 120.3 72.2 120.2C76.4 120.1 74.2 119.7 78.4 120.1C82.6 120.5 80.5 120.3 84.7 121.3C88.9 122.3 86.7 122.0 90.9 123.1C95.1 124.2 92.9 123.9 97.2 124.5C101.5 125.1 99.0 124.4 103.8 125.0C108.6 125.6 106.9 125.7 111.6 126.3C116.3 126.9 114.0 126.6 117.9 126.8C121.8 127.0 119.9 127.1 123.3 127.0C126.7 126.9 123.8 127.4 128.0 126.6C132.2 125.8 130.6 126.1 135.8 124.7C141.0 123.3 138.4 123.3 143.6 122.5C148.8 121.7 146.2 122.0 151.4 122.3C156.6 122.6 154.9 122.5 159.3 123.3C163.7 124.1 161.1 123.9 164.7 124.8C168.3 125.7 166.8 125.7 170.2 126.0C173.6 126.3 171.3 126.4 174.9 125.6C178.5 124.8 175.9 125.5 181.1 123.7C186.3 121.9 184.8 122.3 190.5 120.2C196.2 118.1 194.1 118.7 198.3 117.4C202.5 116.1 199.7 116.5 203.0 116.4C206.3 116.3 204.0 116.7 208.3 117.2C212.6 117.8 210.8 117.3 215.8 118.1C220.8 119.0 218.3 118.4 223.4 119.8C228.4 121.1 225.9 120.8 230.9 122.3C235.9 123.7 233.4 123.3 238.4 124.2C243.4 125.0 240.1 124.6 245.9 124.8C251.8 125.0 252.2 124.4 256.0 124.8C259.7 125.1 253.4 125.3 257.1 125.9C260.9 126.5 260.5 125.4 267.1 126.6C273.8 127.8 271.0 127.3 277.1 129.4C283.3 131.6 279.0 130.4 285.7 133.0C292.4 135.6 289.5 134.0 297.1 137.3C304.8 140.6 301.0 138.5 308.6 143.0C316.2 147.5 312.4 145.4 320.0 150.9C327.6 156.3 322.8 154.2 331.4 159.4C340.1 164.7 339.8 163.6 346.0 166.6C352.2 169.5 344.9 166.3 350.0 168.3C355.1 170.3 353.8 170.0 361.4 172.6C369.0 175.2 365.2 174.0 372.9 176.1C380.5 178.3 376.7 176.9 384.3 179.0C391.9 181.1 388.1 180.4 395.7 182.6C403.3 184.7 399.5 183.5 407.1 185.4C414.8 187.3 410.0 186.4 418.6 188.3C427.1 190.2 427.0 190.1 432.9 191.1C438.7 192.2 433.6 191.1 436.0 191.4C438.4 191.7 435.4 192.0 440.0 192.1C444.6 192.2 443.3 191.8 449.8 191.6C456.3 191.4 454.1 191.6 459.5 191.4C464.9 191.2 461.8 191.5 466.0 191.0C470.2 190.5 467.2 190.6 472.2 189.9C477.2 189.2 475.5 188.7 481.0 188.9C486.5 189.1 482.9 189.3 488.8 190.4C494.7 191.5 492.1 191.0 498.6 192.1C505.1 193.2 501.9 192.2 508.4 193.8C514.9 195.4 511.6 194.3 518.1 197.0C524.6 199.7 520.6 197.8 527.9 201.9C535.2 206.0 534.1 204.6 540.0 209.2C545.9 213.8 541.0 211.6 545.7 215.7C550.5 219.8 549.0 218.3 554.3 221.4C559.5 224.5 556.7 222.6 561.4 225.0C566.2 227.4 563.3 225.7 568.6 228.6C573.8 231.4 571.4 230.5 577.1 233.6C582.9 236.7 580.0 235.2 585.7 237.9C591.4 240.5 588.6 239.5 594.3 241.4C600.0 243.3 597.1 242.0 602.9 243.6C608.6 245.1 605.7 244.6 611.4 246.0C617.1 247.4 614.3 246.9 620.0 247.9C625.7 248.9 622.9 248.5 628.6 249.0C634.3 249.5 631.3 249.0 637.1 249.3C643.0 249.5 642.2 249.4 646.0 249.7C649.8 250.0 643.9 249.6 648.6 250.3C653.2 251.0 652.4 250.5 660.0 251.7C667.6 253.0 664.8 252.7 671.4 254.0C678.1 255.3 674.3 254.8 680.0 255.7C685.7 256.7 682.9 256.4 688.6 256.9C694.3 257.3 691.7 257.1 697.1 257.1C702.6 257.1 702.4 257.0 705.0 256.9"/>
<path fill="none" stroke="#F4603C" stroke-width="1" opacity=".9" d="M0.0 114.9C4.2 115.3 4.1 115.2 12.5 116.1C20.9 117.0 19.3 117.2 25.1 117.6C30.9 118.0 25.8 117.9 30.0 117.3C34.2 116.7 32.9 117.3 37.8 115.7C42.7 114.1 40.1 113.6 44.8 112.4C49.5 111.2 47.5 112.1 51.9 112.2C56.3 112.3 53.9 111.6 58.1 112.6C62.3 113.6 60.2 114.0 64.4 115.3C68.6 116.6 66.4 115.4 70.6 116.5C74.8 117.6 72.2 117.1 76.9 118.5C81.6 119.9 80.0 119.0 84.7 120.8C89.4 122.6 86.7 121.9 90.9 123.9C95.1 125.9 92.9 125.3 97.2 126.7C101.5 128.1 99.0 127.3 103.8 128.2C108.6 129.1 106.9 128.9 111.6 129.4C116.3 129.9 114.0 129.9 117.9 129.6C121.8 129.3 119.9 129.7 123.3 128.6C126.7 127.5 123.8 127.9 128.0 126.4C132.2 124.9 130.6 125.7 135.8 124.1C141.0 122.5 138.4 122.7 143.6 121.7C148.8 120.7 146.2 120.8 151.4 121.1C156.6 121.4 154.9 121.3 159.3 122.5C163.7 123.7 161.1 123.5 164.7 124.8C168.3 126.1 166.8 126.0 170.2 126.4C173.6 126.8 171.3 126.9 174.9 126.0C178.5 125.1 175.9 126.9 181.1 123.7C186.3 120.5 184.8 120.6 190.5 116.3C196.2 112.0 194.0 113.0 198.3 110.8C202.6 108.6 200.8 109.8 203.3 109.8C205.8 109.9 202.4 109.6 205.8 111.0C209.1 112.4 208.3 111.8 213.3 114.1C218.3 116.4 215.8 114.5 220.8 117.9C225.9 121.2 223.4 120.8 228.4 124.2C233.4 127.5 230.9 126.2 235.9 127.9C240.9 129.6 236.7 129.2 243.4 129.2C250.1 129.2 250.0 127.4 256.0 127.9C262.0 128.5 256.3 128.7 261.4 130.9C266.6 133.0 265.2 131.3 271.4 134.4C277.6 137.5 274.3 137.4 280.0 140.1C285.7 142.9 284.3 141.3 288.6 142.7C292.9 144.1 290.0 142.9 292.9 144.4C295.7 146.0 293.8 144.2 297.1 147.3C300.5 150.4 298.1 148.2 302.9 153.7C307.6 159.2 305.7 157.0 311.4 163.7C317.1 170.5 315.7 169.1 320.0 174.0C324.3 178.9 320.5 175.0 324.3 178.3C328.1 181.6 326.2 180.9 331.4 184.0C336.7 187.1 333.8 185.4 340.0 187.6C346.2 189.7 343.8 189.0 350.0 190.4C356.2 191.9 351.9 191.4 358.6 191.9C365.2 192.3 363.3 191.7 370.0 191.9C376.7 192.0 372.9 191.3 378.6 192.3C384.3 193.2 381.4 192.7 387.1 194.7C392.9 196.7 389.0 196.6 395.7 198.3C402.4 200.0 399.5 198.8 407.1 199.7C414.8 200.7 409.0 200.6 418.6 201.1C428.2 201.7 429.8 201.6 436.0 201.4C442.2 201.3 433.9 201.9 437.1 200.7C440.4 199.5 440.0 199.5 445.7 197.9C451.4 196.2 448.6 196.7 454.3 195.7C460.0 194.8 458.1 196.0 462.9 195.0C467.6 194.0 463.8 194.6 468.6 192.9C473.3 191.1 472.4 190.9 477.1 189.7C481.9 188.5 479.0 189.0 482.9 189.3C486.7 189.6 483.8 189.5 488.6 190.7C493.3 191.9 491.4 191.4 497.1 192.9C502.9 194.3 501.0 193.6 505.7 195.0C510.5 196.4 506.7 193.6 511.4 197.1C516.2 200.7 515.2 200.5 520.0 205.7C524.8 211.0 522.4 207.6 525.7 212.9C529.0 218.1 526.2 216.7 530.0 221.4C533.8 226.2 532.9 223.3 537.1 227.1C541.4 231.0 539.0 228.6 542.9 232.9C546.7 237.1 543.8 235.7 548.6 240.0C553.3 244.3 551.4 241.9 557.1 245.7C562.9 249.5 560.0 248.1 565.7 251.4C571.4 254.8 568.6 253.1 574.3 255.7C580.0 258.3 577.1 257.4 582.9 259.3C588.6 261.2 585.7 260.3 591.4 261.4C597.1 262.5 594.3 262.3 600.0 262.6C605.7 262.8 602.4 262.3 608.6 262.1C614.8 262.0 611.9 262.8 618.6 262.1C625.2 261.5 622.4 261.6 628.6 260.3C634.8 259.0 631.3 259.6 637.1 258.3C643.0 257.0 642.2 256.7 646.0 256.4C649.8 256.1 644.9 257.0 648.6 257.4C652.3 257.9 651.4 257.6 657.1 257.9C662.9 258.1 660.0 257.3 665.7 258.3C671.4 259.2 668.6 259.4 674.3 260.7C680.0 262.0 677.1 261.4 682.9 262.1C688.6 262.9 685.7 263.0 691.4 262.9C697.1 262.7 695.5 262.6 700.0 261.7C704.5 260.9 703.3 260.8 705.0 260.3"/>
<path d="M425.6 281.5H491.5Q496.5 281.5 496.5 286.5V288.3L603 282.8L496.5 301.1V301.6Q496.5 306.6 491.5 306.6H425.6Q420.6 306.6 420.6 301.6V286.5Q420.6 281.5 425.6 281.5Z" fill="#1E9FA6" fill-opacity=".75" stroke="#1595A5" stroke-width="1.3"/>
<rect x="0.31" y="105.45" width="0.9" height="5.65" fill="#F23645" opacity=".85"/>
<rect x="-0.14" y="106.08" width="1.8" height="4.39" fill="#F23645"/>
<rect x="3.07" y="107.33" width="0.9" height="5.65" fill="#F23645" opacity=".85"/>
<rect x="2.62" y="109.21" width="1.8" height="1.88" fill="#F23645"/>
<rect x="5.83" y="107.96" width="0.9" height="9.41" fill="#F23645" opacity=".85"/>
<rect x="5.38" y="110.47" width="1.8" height="2.51" fill="#F23645"/>
<rect x="8.59" y="107.96" width="0.9" height="10.04" fill="#F23645" opacity=".85"/>
<rect x="8.14" y="111.09" width="1.8" height="6.27" fill="#F23645"/>
<rect x="11.35" y="116.74" width="0.9" height="9.66" fill="#F23645" opacity=".85"/>
<rect x="10.90" y="117.37" width="1.8" height="8.78" fill="#F23645"/>
<rect x="14.11" y="123.01" width="0.9" height="5.65" fill="#F23645" opacity=".85"/>
<rect x="13.66" y="124.27" width="1.8" height="3.76" fill="#F23645"/>
<rect x="16.87" y="121.13" width="0.9" height="7.53" fill="#089981" opacity=".85"/>
<rect x="16.42" y="121.76" width="1.8" height="6.27" fill="#089981"/>
<rect x="19.63" y="117.99" width="0.9" height="5.02" fill="#089981" opacity=".85"/>
<rect x="19.18" y="119.25" width="1.8" height="3.14" fill="#089981"/>
<rect x="22.39" y="119.25" width="0.9" height="8.16" fill="#F23645" opacity=".85"/>
<rect x="21.94" y="119.88" width="1.8" height="3.76" fill="#F23645"/>
<rect x="25.15" y="117.99" width="0.9" height="6.27" fill="#089981" opacity=".85"/>
<rect x="24.70" y="119.25" width="1.8" height="4.39" fill="#089981"/>
<rect x="27.91" y="111.72" width="0.9" height="10.66" fill="#089981" opacity=".85"/>
<rect x="27.46" y="112.35" width="1.8" height="8.16" fill="#089981"/>
<rect x="30.67" y="112.10" width="0.9" height="5.27" fill="#F23645" opacity=".85"/>
<rect x="30.22" y="112.60" width="1.8" height="3.51" fill="#F23645"/>
<rect x="33.43" y="111.09" width="0.9" height="5.65" fill="#F23645" opacity=".85"/>
<rect x="32.98" y="114.86" width="1.8" height="1.25" fill="#F23645"/>
<rect x="36.19" y="106.70" width="0.9" height="9.41" fill="#089981" opacity=".85"/>
<rect x="35.74" y="107.08" width="1.8" height="8.41" fill="#089981"/>
<rect x="38.95" y="97.92" width="0.9" height="12.55" fill="#F23645" opacity=".85"/>
<rect x="38.50" y="107.33" width="1.8" height="1.88" fill="#F23645"/>
<rect x="41.71" y="103.57" width="0.9" height="6.27" fill="#089981" opacity=".85"/>
<rect x="41.26" y="104.19" width="1.8" height="5.02" fill="#089981"/>
<rect x="44.47" y="93.28" width="0.9" height="14.05" fill="#089981" opacity=".85"/>
<rect x="44.02" y="93.78" width="1.8" height="11.04" fill="#089981"/>
<rect x="47.23" y="91.02" width="0.9" height="21.33" fill="#F23645" opacity=".85"/>
<rect x="46.78" y="94.16" width="1.8" height="16.31" fill="#F23645"/>
<rect x="49.99" y="107.08" width="0.9" height="7.15" fill="#F23645" opacity=".85"/>
<rect x="49.54" y="109.84" width="1.8" height="3.14" fill="#F23645"/>
<rect x="52.75" y="110.84" width="0.9" height="2.13" fill="#089981" opacity=".85"/>
<rect x="52.30" y="111.47" width="1.8" height="1.13" fill="#089981"/>
<rect x="55.51" y="109.21" width="0.9" height="3.76" fill="#089981" opacity=".85"/>
<rect x="55.06" y="111.64" width="1.8" height="0.80" fill="#089981"/>
<rect x="58.27" y="111.72" width="0.9" height="8.78" fill="#F23645" opacity=".85"/>
<rect x="57.82" y="112.35" width="1.8" height="5.02" fill="#F23645"/>
<rect x="61.03" y="114.86" width="0.9" height="12.30" fill="#F23645" opacity=".85"/>
<rect x="60.58" y="115.49" width="1.8" height="11.29" fill="#F23645"/>
<rect x="63.79" y="121.13" width="0.9" height="6.90" fill="#089981" opacity=".85"/>
<rect x="63.34" y="121.76" width="1.8" height="5.65" fill="#089981"/>
<rect x="66.55" y="120.50" width="0.9" height="8.78" fill="#F23645" opacity=".85"/>
<rect x="66.10" y="122.39" width="1.8" height="5.65" fill="#F23645"/>
<rect x="69.31" y="112.98" width="0.9" height="16.94" fill="#089981" opacity=".85"/>
<rect x="68.86" y="114.23" width="1.8" height="13.80" fill="#089981"/>
<rect x="72.07" y="113.60" width="0.9" height="6.90" fill="#F23645" opacity=".85"/>
<rect x="71.62" y="114.23" width="1.8" height="5.02" fill="#F23645"/>
<rect x="74.83" y="116.11" width="0.9" height="16.31" fill="#F23645" opacity=".85"/>
<rect x="74.38" y="118.62" width="1.8" height="6.27" fill="#F23645"/>
<rect x="77.59" y="124.27" width="0.9" height="13.17" fill="#F23645" opacity=".85"/>
<rect x="77.14" y="124.90" width="1.8" height="10.66" fill="#F23645"/>
<rect x="80.35" y="128.03" width="0.9" height="10.66" fill="#089981" opacity=".85"/>
<rect x="79.90" y="129.29" width="1.8" height="6.27" fill="#089981"/>
<rect x="83.11" y="128.66" width="0.9" height="4.39" fill="#F23645" opacity=".85"/>
<rect x="82.66" y="129.91" width="1.8" height="1.88" fill="#F23645"/>
<rect x="85.87" y="124.27" width="0.9" height="7.53" fill="#089981" opacity=".85"/>
<rect x="85.42" y="126.15" width="1.8" height="5.02" fill="#089981"/>
<rect x="88.63" y="126.78" width="0.9" height="15.68" fill="#F23645" opacity=".85"/>
<rect x="88.18" y="127.41" width="1.8" height="13.17" fill="#F23645"/>
<rect x="91.39" y="138.70" width="0.9" height="5.27" fill="#089981" opacity=".85"/>
<rect x="90.94" y="139.32" width="1.8" height="1.51" fill="#089981"/>
<rect x="94.15" y="138.45" width="0.9" height="2.76" fill="#F23645" opacity=".85"/>
<rect x="93.70" y="139.32" width="1.8" height="1.25" fill="#F23645"/>
<rect x="96.91" y="135.56" width="0.9" height="8.16" fill="#089981" opacity=".85"/>
<rect x="96.46" y="136.19" width="1.8" height="4.39" fill="#089981"/>
<rect x="99.67" y="129.91" width="0.9" height="9.41" fill="#089981" opacity=".85"/>
<rect x="99.22" y="130.54" width="1.8" height="8.16" fill="#089981"/>
<rect x="102.43" y="127.41" width="0.9" height="5.65" fill="#089981" opacity=".85"/>
<rect x="101.98" y="129.29" width="1.8" height="1.88" fill="#089981"/>
<rect x="105.19" y="128.03" width="0.9" height="8.78" fill="#F23645" opacity=".85"/>
<rect x="104.74" y="129.66" width="1.8" height="4.64" fill="#F23645"/>
<rect x="107.95" y="124.90" width="0.9" height="10.04" fill="#F23645" opacity=".85"/>
<rect x="107.50" y="131.80" width="1.8" height="2.51" fill="#F23645"/>
<rect x="110.71" y="131.80" width="0.9" height="3.76" fill="#F23645" opacity=".85"/>
<rect x="110.26" y="133.05" width="1.8" height="1.88" fill="#F23645"/>
<rect x="113.47" y="131.17" width="0.9" height="4.39" fill="#089981" opacity=".85"/>
<rect x="113.02" y="131.80" width="1.8" height="3.39" fill="#089981"/>
<rect x="116.23" y="126.15" width="0.9" height="6.90" fill="#089981" opacity=".85"/>
<rect x="115.78" y="129.29" width="1.8" height="3.14" fill="#089981"/>
<rect x="118.99" y="126.15" width="0.9" height="6.27" fill="#F23645" opacity=".85"/>
<rect x="118.54" y="129.29" width="1.8" height="1.88" fill="#F23645"/>
<rect x="121.75" y="122.39" width="0.9" height="10.04" fill="#089981" opacity=".85"/>
<rect x="121.30" y="123.01" width="1.8" height="8.16" fill="#089981"/>
<rect x="124.51" y="117.99" width="0.9" height="6.27" fill="#089981" opacity=".85"/>
<rect x="124.06" y="118.62" width="1.8" height="5.02" fill="#089981"/>
<rect x="127.27" y="114.86" width="0.9" height="5.02" fill="#089981" opacity=".85"/>
<rect x="126.82" y="115.49" width="1.8" height="3.76" fill="#089981"/>
<rect x="130.03" y="116.37" width="0.9" height="2.13" fill="#F23645" opacity=".85"/>
<rect x="129.58" y="116.87" width="1.8" height="1.00" fill="#F23645"/>
<rect x="132.79" y="116.62" width="0.9" height="3.14" fill="#F23645" opacity=".85"/>
<rect x="132.34" y="117.25" width="1.8" height="1.88" fill="#F23645"/>
<rect x="135.55" y="114.11" width="0.9" height="7.53" fill="#089981" opacity=".85"/>
<rect x="135.10" y="114.74" width="1.8" height="6.27" fill="#089981"/>
<rect x="138.31" y="113.49" width="0.9" height="6.90" fill="#089981" opacity=".85"/>
<rect x="137.86" y="114.11" width="1.8" height="5.65" fill="#089981"/>
<rect x="141.07" y="113.61" width="0.9" height="7.03" fill="#F23645" opacity=".85"/>
<rect x="140.62" y="114.09" width="1.8" height="0.80" fill="#F23645"/>
<rect x="143.83" y="110.98" width="0.9" height="5.02" fill="#089981" opacity=".85"/>
<rect x="143.38" y="113.49" width="1.8" height="1.88" fill="#089981"/>
<rect x="146.59" y="112.61" width="0.9" height="6.52" fill="#F23645" opacity=".85"/>
<rect x="146.14" y="113.11" width="1.8" height="5.40" fill="#F23645"/>
<rect x="149.35" y="116.37" width="0.9" height="2.76" fill="#F23645" opacity=".85"/>
<rect x="148.90" y="116.87" width="1.8" height="1.63" fill="#F23645"/>
<rect x="152.11" y="117.38" width="0.9" height="3.01" fill="#F23645" opacity=".85"/>
<rect x="151.66" y="117.88" width="1.8" height="1.88" fill="#F23645"/>
<rect x="154.87" y="118.88" width="0.9" height="10.29" fill="#F23645" opacity=".85"/>
<rect x="154.42" y="119.38" width="1.8" height="8.53" fill="#F23645"/>
<rect x="157.63" y="126.03" width="0.9" height="4.64" fill="#F23645" opacity=".85"/>
<rect x="157.18" y="127.29" width="1.8" height="2.51" fill="#F23645"/>
<rect x="160.39" y="123.52" width="0.9" height="8.16" fill="#089981" opacity=".85"/>
<rect x="159.94" y="124.15" width="1.8" height="5.65" fill="#089981"/>
<rect x="163.15" y="124.15" width="0.9" height="15.06" fill="#F23645" opacity=".85"/>
<rect x="162.70" y="124.78" width="1.8" height="13.80" fill="#F23645"/>
<rect x="165.91" y="134.19" width="0.9" height="5.02" fill="#089981" opacity=".85"/>
<rect x="165.46" y="135.44" width="1.8" height="3.14" fill="#089981"/>
<rect x="168.67" y="135.44" width="0.9" height="2.51" fill="#089981" opacity=".85"/>
<rect x="168.22" y="136.07" width="1.8" height="1.25" fill="#089981"/>
<rect x="171.43" y="127.91" width="0.9" height="9.41" fill="#089981" opacity=".85"/>
<rect x="170.98" y="128.54" width="1.8" height="8.16" fill="#089981"/>
<rect x="174.19" y="121.64" width="0.9" height="8.16" fill="#089981" opacity=".85"/>
<rect x="173.74" y="122.27" width="1.8" height="6.90" fill="#089981"/>
<rect x="176.95" y="121.01" width="0.9" height="6.27" fill="#F23645" opacity=".85"/>
<rect x="176.50" y="121.64" width="1.8" height="4.39" fill="#F23645"/>
<rect x="179.71" y="108.47" width="0.9" height="15.68" fill="#089981" opacity=".85"/>
<rect x="179.26" y="109.09" width="1.8" height="14.43" fill="#089981"/>
<rect x="182.47" y="102.19" width="0.9" height="8.16" fill="#089981" opacity=".85"/>
<rect x="182.02" y="102.82" width="1.8" height="6.90" fill="#089981"/>
<rect x="185.23" y="92.78" width="0.9" height="13.80" fill="#089981" opacity=".85"/>
<rect x="184.78" y="97.80" width="1.8" height="5.65" fill="#089981"/>
<rect x="187.99" y="95.92" width="0.9" height="3.76" fill="#089981" opacity=".85"/>
<rect x="187.54" y="96.55" width="1.8" height="2.51" fill="#089981"/>
<rect x="190.75" y="86.76" width="0.9" height="11.29" fill="#089981" opacity=".85"/>
<rect x="190.30" y="94.04" width="1.8" height="3.76" fill="#089981"/>
<rect x="193.51" y="85.25" width="0.9" height="10.04" fill="#089981" opacity=".85"/>
<rect x="193.06" y="89.77" width="1.8" height="4.89" fill="#089981"/>
<rect x="196.27" y="89.02" width="0.9" height="13.80" fill="#F23645" opacity=".85"/>
<rect x="195.82" y="89.65" width="1.8" height="11.29" fill="#F23645"/>
<rect x="199.03" y="92.16" width="0.9" height="9.41" fill="#089981" opacity=".85"/>
<rect x="198.58" y="92.78" width="1.8" height="8.16" fill="#089981"/>
<rect x="201.79" y="93.41" width="0.9" height="11.92" fill="#F23645" opacity=".85"/>
<rect x="201.34" y="94.04" width="1.8" height="5.65" fill="#F23645"/>
<rect x="204.55" y="96.57" width="0.9" height="63.14" fill="#F23645" opacity=".85"/>
<rect x="204.10" y="99.00" width="1.8" height="27.57" fill="#F23645"/>
<rect x="207.31" y="124.86" width="0.9" height="11.71" fill="#F23645" opacity=".85"/>
<rect x="206.86" y="125.86" width="1.8" height="7.86" fill="#F23645"/>
<rect x="210.07" y="118.00" width="0.9" height="18.57" fill="#089981" opacity=".85"/>
<rect x="209.62" y="118.71" width="1.8" height="15.00" fill="#089981"/>
<rect x="212.83" y="117.29" width="0.9" height="6.43" fill="#089981" opacity=".85"/>
<rect x="212.38" y="118.00" width="1.8" height="2.14" fill="#089981"/>
<rect x="215.59" y="118.29" width="0.9" height="16.86" fill="#F23645" opacity=".85"/>
<rect x="215.14" y="119.14" width="1.8" height="7.43" fill="#F23645"/>
<rect x="218.35" y="124.00" width="0.9" height="10.86" fill="#F23645" opacity=".85"/>
<rect x="217.90" y="124.86" width="1.8" height="8.86" fill="#F23645"/>
<rect x="221.11" y="129.43" width="0.9" height="13.57" fill="#F23645" opacity=".85"/>
<rect x="220.66" y="133.43" width="1.8" height="8.14" fill="#F23645"/>
<rect x="223.87" y="137.29" width="0.9" height="17.86" fill="#F23645" opacity=".85"/>
<rect x="223.42" y="138.00" width="1.8" height="8.57" fill="#F23645"/>
<rect x="226.63" y="143.00" width="0.9" height="4.29" fill="#089981" opacity=".85"/>
<rect x="226.18" y="143.71" width="1.8" height="2.86" fill="#089981"/>
<rect x="229.39" y="137.29" width="0.9" height="10.00" fill="#089981" opacity=".85"/>
<rect x="228.94" y="138.00" width="1.8" height="7.86" fill="#089981"/>
<rect x="232.15" y="130.14" width="0.9" height="12.86" fill="#089981" opacity=".85"/>
<rect x="231.70" y="133.71" width="1.8" height="7.43" fill="#089981"/>
<rect x="234.91" y="123.00" width="0.9" height="20.00" fill="#F23645" opacity=".85"/>
<rect x="234.46" y="133.71" width="1.8" height="8.29" fill="#F23645"/>
<rect x="237.67" y="138.00" width="0.9" height="7.86" fill="#F23645" opacity=".85"/>
<rect x="237.22" y="138.71" width="1.8" height="5.00" fill="#F23645"/>
<rect x="240.43" y="131.57" width="0.9" height="12.14" fill="#089981" opacity=".85"/>
<rect x="239.98" y="134.43" width="1.8" height="8.57" fill="#089981"/>
<rect x="243.19" y="130.86" width="0.9" height="5.71" fill="#089981" opacity=".85"/>
<rect x="242.74" y="132.00" width="1.8" height="3.86" fill="#089981"/>
<rect x="245.95" y="128.71" width="0.9" height="4.29" fill="#089981" opacity=".85"/>
<rect x="245.50" y="129.43" width="1.8" height="2.86" fill="#089981"/>
<rect x="248.71" y="118.00" width="0.9" height="13.14" fill="#089981" opacity=".85"/>
<rect x="248.26" y="120.86" width="1.8" height="9.71" fill="#089981"/>
<rect x="251.47" y="115.43" width="0.9" height="8.29" fill="#F23645" opacity=".85"/>
<rect x="251.02" y="120.57" width="1.8" height="2.43" fill="#F23645"/>
<rect x="254.23" y="116.57" width="0.9" height="11.14" fill="#F23645" opacity=".85"/>
<rect x="253.78" y="123.00" width="1.8" height="3.86" fill="#F23645"/>
<rect x="256.99" y="124.43" width="0.9" height="12.86" fill="#F23645" opacity=".85"/>
<rect x="256.54" y="125.86" width="1.8" height="10.00" fill="#F23645"/>
<rect x="259.75" y="129.43" width="0.9" height="17.14" fill="#F23645" opacity=".85"/>
<rect x="259.30" y="135.14" width="1.8" height="6.43" fill="#F23645"/>
<rect x="262.51" y="131.57" width="0.9" height="10.00" fill="#089981" opacity=".85"/>
<rect x="262.06" y="137.00" width="1.8" height="3.86" fill="#089981"/>
<rect x="265.27" y="133.71" width="0.9" height="3.57" fill="#089981" opacity=".85"/>
<rect x="264.82" y="134.86" width="1.8" height="1.71" fill="#089981"/>
<rect x="268.03" y="131.57" width="0.9" height="5.00" fill="#089981" opacity=".85"/>
<rect x="267.58" y="133.00" width="1.8" height="2.43" fill="#089981"/>
<rect x="270.79" y="133.00" width="0.9" height="16.43" fill="#F23645" opacity=".85"/>
<rect x="270.34" y="133.71" width="1.8" height="12.14" fill="#F23645"/>
<rect x="273.55" y="143.71" width="0.9" height="25.00" fill="#F23645" opacity=".85"/>
<rect x="273.10" y="145.14" width="1.8" height="16.43" fill="#F23645"/>
<rect x="276.31" y="152.29" width="0.9" height="16.43" fill="#089981" opacity=".85"/>
<rect x="275.86" y="153.71" width="1.8" height="7.86" fill="#089981"/>
<rect x="279.07" y="153.43" width="0.9" height="11.71" fill="#F23645" opacity=".85"/>
<rect x="278.62" y="154.00" width="1.8" height="7.57" fill="#F23645"/>
<rect x="281.83" y="153.43" width="0.9" height="14.29" fill="#089981" opacity=".85"/>
<rect x="281.38" y="155.86" width="1.8" height="6.14" fill="#089981"/>
<rect x="284.59" y="155.86" width="0.9" height="5.71" fill="#F23645" opacity=".85"/>
<rect x="284.14" y="156.29" width="1.8" height="3.86" fill="#F23645"/>
<rect x="287.35" y="149.43" width="0.9" height="12.14" fill="#089981" opacity=".85"/>
<rect x="286.90" y="151.57" width="1.8" height="8.57" fill="#089981"/>
<rect x="290.11" y="145.43" width="0.9" height="7.14" fill="#089981" opacity=".85"/>
<rect x="289.66" y="146.57" width="1.8" height="5.43" fill="#089981"/>
<rect x="292.87" y="143.00" width="0.9" height="15.00" fill="#F23645" opacity=".85"/>
<rect x="292.42" y="147.29" width="1.8" height="9.29" fill="#F23645"/>
<rect x="295.63" y="150.14" width="0.9" height="12.86" fill="#F23645" opacity=".85"/>
<rect x="295.18" y="156.57" width="1.8" height="5.71" fill="#F23645"/>
<rect x="298.39" y="153.71" width="0.9" height="18.14" fill="#F23645" opacity=".85"/>
<rect x="297.94" y="161.14" width="1.8" height="6.00" fill="#F23645"/>
<rect x="301.15" y="166.14" width="0.9" height="18.14" fill="#F23645" opacity=".85"/>
<rect x="300.70" y="166.86" width="1.8" height="17.14" fill="#F23645"/>
<rect x="303.91" y="175.43" width="0.9" height="8.57" fill="#089981" opacity=".85"/>
<rect x="303.46" y="176.14" width="1.8" height="7.14" fill="#089981"/>
<rect x="306.67" y="176.86" width="0.9" height="10.71" fill="#F23645" opacity=".85"/>
<rect x="306.22" y="178.29" width="1.8" height="5.71" fill="#F23645"/>
<rect x="309.43" y="178.29" width="0.9" height="14.29" fill="#F23645" opacity=".85"/>
<rect x="308.98" y="182.57" width="1.8" height="7.86" fill="#F23645"/>
<rect x="312.19" y="185.43" width="0.9" height="13.57" fill="#089981" opacity=".85"/>
<rect x="311.74" y="186.86" width="1.8" height="3.57" fill="#089981"/>
<rect x="314.95" y="186.86" width="0.9" height="14.29" fill="#F23645" opacity=".85"/>
<rect x="314.50" y="187.57" width="1.8" height="5.00" fill="#F23645"/>
<rect x="317.71" y="186.86" width="0.9" height="21.43" fill="#F23645" opacity=".85"/>
<rect x="317.26" y="191.86" width="1.8" height="15.71" fill="#F23645"/>
<rect x="320.47" y="204.71" width="0.9" height="20.71" fill="#F23645" opacity=".85"/>
<rect x="320.02" y="206.86" width="1.8" height="5.71" fill="#F23645"/>
<rect x="323.23" y="209.71" width="0.9" height="7.14" fill="#F23645" opacity=".85"/>
<rect x="322.78" y="211.14" width="1.8" height="2.14" fill="#F23645"/>
<rect x="325.99" y="201.86" width="0.9" height="11.86" fill="#089981" opacity=".85"/>
<rect x="325.54" y="202.57" width="1.8" height="10.71" fill="#089981"/>
<rect x="328.75" y="199.00" width="0.9" height="12.86" fill="#089981" opacity=".85"/>
<rect x="328.30" y="201.43" width="1.8" height="5.43" fill="#089981"/>
<rect x="331.51" y="200.86" width="0.9" height="7.43" fill="#F23645" opacity=".85"/>
<rect x="331.06" y="201.43" width="1.8" height="4.00" fill="#F23645"/>
<rect x="334.27" y="194.71" width="0.9" height="12.86" fill="#089981" opacity=".85"/>
<rect x="333.82" y="195.43" width="1.8" height="10.00" fill="#089981"/>
<rect x="337.03" y="190.86" width="0.9" height="6.00" fill="#089981" opacity=".85"/>
<rect x="336.58" y="191.86" width="1.8" height="4.29" fill="#089981"/>
<rect x="339.79" y="187.57" width="0.9" height="7.86" fill="#F23645" opacity=".85"/>
<rect x="339.34" y="192.29" width="1.8" height="2.00" fill="#F23645"/>
<rect x="342.55" y="192.57" width="0.9" height="3.14" fill="#F23645" opacity=".85"/>
<rect x="342.10" y="193.71" width="1.8" height="1.00" fill="#F23645"/>
<rect x="345.31" y="190.43" width="0.9" height="5.71" fill="#F23645" opacity=".85"/>
<rect x="344.86" y="194.00" width="1.8" height="1.71" fill="#F23645"/>
<rect x="348.07" y="195.14" width="0.9" height="20.00" fill="#F23645" opacity=".85"/>
<rect x="347.62" y="195.71" width="1.8" height="13.29" fill="#F23645"/>
<rect x="350.83" y="189.71" width="0.9" height="19.71" fill="#089981" opacity=".85"/>
<rect x="350.38" y="190.43" width="1.8" height="18.14" fill="#089981"/>
<rect x="353.59" y="184.00" width="0.9" height="9.29" fill="#089981" opacity=".85"/>
<rect x="353.14" y="185.43" width="1.8" height="7.14" fill="#089981"/>
<rect x="356.35" y="184.71" width="0.9" height="9.29" fill="#F23645" opacity=".85"/>
<rect x="355.90" y="185.71" width="1.8" height="4.71" fill="#F23645"/>
<rect x="359.11" y="189.00" width="0.9" height="13.86" fill="#F23645" opacity=".85"/>
<rect x="358.66" y="189.71" width="1.8" height="10.00" fill="#F23645"/>
<rect x="361.87" y="196.14" width="0.9" height="4.29" fill="#F23645" opacity=".85"/>
<rect x="361.42" y="197.57" width="1.8" height="1.43" fill="#F23645"/>
<rect x="364.63" y="191.86" width="0.9" height="11.43" fill="#089981" opacity=".85"/>
<rect x="364.18" y="195.71" width="1.8" height="4.00" fill="#089981"/>
<rect x="367.39" y="189.71" width="0.9" height="8.57" fill="#089981" opacity=".85"/>
<rect x="366.94" y="194.71" width="1.8" height="2.43" fill="#089981"/>
<rect x="370.15" y="183.29" width="0.9" height="14.29" fill="#089981" opacity=".85"/>
<rect x="369.70" y="189.00" width="1.8" height="7.14" fill="#089981"/>
<rect x="372.91" y="184.71" width="0.9" height="7.14" fill="#F23645" opacity=".85"/>
<rect x="372.46" y="188.57" width="1.8" height="2.57" fill="#F23645"/>
<rect x="375.67" y="185.43" width="0.9" height="13.57" fill="#089981" opacity=".85"/>
<rect x="375.22" y="189.43" width="1.8" height="1.71" fill="#089981"/>
<rect x="378.43" y="188.29" width="0.9" height="9.29" fill="#F23645" opacity=".85"/>
<rect x="377.98" y="189.00" width="1.8" height="7.14" fill="#F23645"/>
<rect x="381.19" y="194.71" width="0.9" height="3.57" fill="#F23645" opacity=".85"/>
<rect x="380.74" y="195.71" width="1.8" height="1.43" fill="#F23645"/>
<rect x="383.95" y="195.43" width="0.9" height="8.57" fill="#F23645" opacity=".85"/>
<rect x="383.50" y="196.14" width="1.8" height="6.71" fill="#F23645"/>
<rect x="386.71" y="197.57" width="0.9" height="13.57" fill="#F23645" opacity=".85"/>
<rect x="386.26" y="201.86" width="1.8" height="6.14" fill="#F23645"/>
<rect x="389.47" y="202.29" width="0.9" height="8.86" fill="#089981" opacity=".85"/>
<rect x="389.02" y="203.29" width="1.8" height="5.00" fill="#089981"/>
<rect x="392.23" y="198.29" width="0.9" height="12.57" fill="#F23645" opacity=".85"/>
<rect x="391.78" y="203.29" width="1.8" height="6.71" fill="#F23645"/>
<rect x="394.99" y="198.29" width="0.9" height="15.71" fill="#F23645" opacity=".85"/>
<rect x="394.54" y="208.29" width="1.8" height="2.86" fill="#F23645"/>
<rect x="397.75" y="198.29" width="0.9" height="13.57" fill="#089981" opacity=".85"/>
<rect x="397.30" y="202.57" width="1.8" height="8.29" fill="#089981"/>
<rect x="400.51" y="201.14" width="0.9" height="2.86" fill="#089981" opacity=".85"/>
<rect x="400.06" y="201.86" width="1.8" height="1.43" fill="#089981"/>
<rect x="403.27" y="199.71" width="0.9" height="4.00" fill="#089981" opacity=".85"/>
<rect x="402.82" y="200.86" width="1.8" height="1.71" fill="#089981"/>
<rect x="406.03" y="195.14" width="0.9" height="7.43" fill="#F23645" opacity=".85"/>
<rect x="405.58" y="200.86" width="1.8" height="1.00" fill="#F23645"/>
<rect x="408.79" y="199.00" width="0.9" height="7.86" fill="#F23645" opacity=".85"/>
<rect x="408.34" y="201.43" width="1.8" height="4.00" fill="#F23645"/>
<rect x="411.55" y="202.57" width="0.9" height="5.00" fill="#089981" opacity=".85"/>
<rect x="411.10" y="204.00" width="1.8" height="1.71" fill="#089981"/>
<rect x="414.31" y="203.29" width="0.9" height="3.29" fill="#F23645" opacity=".85"/>
<rect x="413.86" y="204.00" width="1.8" height="2.14" fill="#F23645"/>
<rect x="417.07" y="198.29" width="0.9" height="8.57" fill="#089981" opacity=".85"/>
<rect x="416.62" y="201.14" width="1.8" height="5.00" fill="#089981"/>
<rect x="419.83" y="202.86" width="0.9" height="2.57" fill="#089981" opacity=".85"/>
<rect x="419.38" y="203.71" width="1.8" height="1.00" fill="#089981"/>
<rect x="422.59" y="202.29" width="0.9" height="2.86" fill="#089981" opacity=".85"/>
<rect x="422.14" y="202.86" width="1.8" height="1.43" fill="#089981"/>
<rect x="425.35" y="195.71" width="0.9" height="10.71" fill="#F23645" opacity=".85"/>
<rect x="424.90" y="202.14" width="1.8" height="3.86" fill="#F23645"/>
<rect x="428.11" y="198.29" width="0.9" height="8.14" fill="#089981" opacity=".85"/>
<rect x="427.66" y="201.43" width="1.8" height="4.57" fill="#089981"/>
<rect x="430.87" y="200.29" width="0.9" height="4.71" fill="#F23645" opacity=".85"/>
<rect x="430.42" y="201.43" width="1.8" height="3.14" fill="#F23645"/>
<rect x="433.63" y="199.71" width="0.9" height="5.29" fill="#089981" opacity=".85"/>
<rect x="433.18" y="200.43" width="1.8" height="4.14" fill="#089981"/>
<rect x="436.39" y="194.00" width="0.9" height="7.71" fill="#089981" opacity=".85"/>
<rect x="435.94" y="196.43" width="1.8" height="4.71" fill="#089981"/>
<rect x="439.15" y="194.29" width="0.9" height="4.00" fill="#089981" opacity=".85"/>
<rect x="438.70" y="195.00" width="1.8" height="2.43" fill="#089981"/>
<rect x="441.91" y="190.71" width="0.9" height="5.71" fill="#089981" opacity=".85"/>
<rect x="441.46" y="191.43" width="1.8" height="4.29" fill="#089981"/>
<rect x="444.67" y="181.71" width="0.9" height="11.14" fill="#089981" opacity=".85"/>
<rect x="444.22" y="184.00" width="1.8" height="8.14" fill="#089981"/>
<rect x="447.43" y="183.57" width="0.9" height="2.86" fill="#F23645" opacity=".85"/>
<rect x="446.98" y="184.29" width="1.8" height="1.43" fill="#F23645"/>
<rect x="450.19" y="184.57" width="0.9" height="10.00" fill="#F23645" opacity=".85"/>
<rect x="449.74" y="185.43" width="1.8" height="8.57" fill="#F23645"/>
<rect x="452.95" y="190.71" width="0.9" height="8.14" fill="#F23645" opacity=".85"/>
<rect x="452.50" y="192.14" width="1.8" height="4.29" fill="#F23645"/>
<rect x="455.71" y="190.00" width="0.9" height="7.43" fill="#F23645" opacity=".85"/>
<rect x="455.26" y="193.14" width="1.8" height="2.86" fill="#F23645"/>
<rect x="458.47" y="193.71" width="0.9" height="2.00" fill="#F23645" opacity=".85"/>
<rect x="458.02" y="194.29" width="1.8" height="0.86" fill="#F23645"/>
<rect x="461.23" y="192.86" width="0.9" height="3.14" fill="#089981" opacity=".85"/>
<rect x="460.78" y="193.57" width="1.8" height="1.86" fill="#089981"/>
<rect x="463.99" y="189.29" width="0.9" height="7.29" fill="#089981" opacity=".85"/>
<rect x="463.54" y="192.86" width="1.8" height="2.86" fill="#089981"/>
<rect x="466.75" y="176.43" width="0.9" height="17.86" fill="#089981" opacity=".85"/>
<rect x="466.30" y="180.00" width="1.8" height="13.57" fill="#089981"/>
<rect x="469.51" y="172.57" width="0.9" height="10.29" fill="#089981" opacity=".85"/>
<rect x="469.06" y="174.29" width="1.8" height="7.14" fill="#089981"/>
<rect x="472.27" y="174.29" width="0.9" height="6.57" fill="#F23645" opacity=".85"/>
<rect x="471.82" y="175.43" width="1.8" height="4.57" fill="#F23645"/>
<rect x="475.03" y="179.14" width="0.9" height="3.43" fill="#F23645" opacity=".85"/>
<rect x="474.58" y="179.71" width="1.8" height="1.71" fill="#F23645"/>
<rect x="477.79" y="179.71" width="0.9" height="2.43" fill="#F23645" opacity=".85"/>
<rect x="477.34" y="180.29" width="1.8" height="0.86" fill="#F23645"/>
<rect x="480.55" y="179.29" width="0.9" height="6.71" fill="#F23645" opacity=".85"/>
<rect x="480.10" y="181.14" width="1.8" height="4.29" fill="#F23645"/>
<rect x="483.31" y="184.86" width="0.9" height="5.14" fill="#F23645" opacity=".85"/>
<rect x="482.86" y="185.43" width="1.8" height="3.86" fill="#F23645"/>
<rect x="486.07" y="188.29" width="0.9" height="15.29" fill="#F23645" opacity=".85"/>
<rect x="485.62" y="188.57" width="1.8" height="13.57" fill="#F23645"/>
<rect x="488.83" y="194.29" width="0.9" height="10.71" fill="#089981" opacity=".85"/>
<rect x="488.38" y="196.43" width="1.8" height="5.71" fill="#089981"/>
<rect x="491.59" y="194.29" width="0.9" height="6.43" fill="#089981" opacity=".85"/>
<rect x="491.14" y="196.86" width="1.8" height="1.43" fill="#089981"/>
<rect x="494.35" y="193.14" width="0.9" height="7.14" fill="#089981" opacity=".85"/>
<rect x="493.90" y="194.29" width="1.8" height="3.14" fill="#089981"/>
<rect x="497.11" y="196.86" width="0.9" height="2.43" fill="#F23645" opacity=".85"/>
<rect x="496.66" y="197.43" width="1.8" height="1.14" fill="#F23645"/>
<rect x="499.87" y="198.29" width="0.9" height="10.29" fill="#F23645" opacity=".85"/>
<rect x="499.42" y="198.86" width="1.8" height="8.29" fill="#F23645"/>
<rect x="502.63" y="200.00" width="0.9" height="8.00" fill="#089981" opacity=".85"/>
<rect x="502.18" y="200.71" width="1.8" height="6.43" fill="#089981"/>
<rect x="505.39" y="197.86" width="0.9" height="7.57" fill="#089981" opacity=".85"/>
<rect x="504.94" y="198.57" width="1.8" height="3.57" fill="#089981"/>
<rect x="508.15" y="195.43" width="0.9" height="4.57" fill="#089981" opacity=".85"/>
<rect x="507.70" y="197.43" width="1.8" height="1.86" fill="#089981"/>
<rect x="510.91" y="197.14" width="0.9" height="19.71" fill="#F23645" opacity=".85"/>
<rect x="510.46" y="198.29" width="1.8" height="17.14" fill="#F23645"/>
<rect x="513.67" y="212.57" width="0.9" height="12.43" fill="#F23645" opacity=".85"/>
<rect x="513.22" y="213.14" width="1.8" height="2.57" fill="#F23645"/>
<rect x="516.43" y="215.00" width="0.9" height="25.71" fill="#F23645" opacity=".85"/>
<rect x="515.98" y="215.71" width="1.8" height="16.43" fill="#F23645"/>
<rect x="519.19" y="229.29" width="0.9" height="11.86" fill="#F23645" opacity=".85"/>
<rect x="518.74" y="230.71" width="1.8" height="6.71" fill="#F23645"/>
<rect x="521.95" y="228.86" width="0.9" height="14.71" fill="#089981" opacity=".85"/>
<rect x="521.50" y="229.71" width="1.8" height="8.14" fill="#089981"/>
<rect x="524.71" y="229.71" width="0.9" height="18.86" fill="#F23645" opacity=".85"/>
<rect x="524.26" y="230.29" width="1.8" height="11.14" fill="#F23645"/>
<rect x="527.47" y="236.86" width="0.9" height="15.71" fill="#F23645" opacity=".85"/>
<rect x="527.02" y="240.71" width="1.8" height="8.57" fill="#F23645"/>
<rect x="530.23" y="248.29" width="0.9" height="33.14" fill="#F23645" opacity=".85"/>
<rect x="529.78" y="248.57" width="1.8" height="32.14" fill="#F23645"/>
<rect x="532.99" y="252.57" width="0.9" height="35.71" fill="#089981" opacity=".85"/>
<rect x="532.54" y="255.43" width="1.8" height="25.29" fill="#089981"/>
<rect x="535.75" y="253.14" width="0.9" height="13.29" fill="#F23645" opacity=".85"/>
<rect x="535.30" y="254.29" width="1.8" height="7.14" fill="#F23645"/>
<rect x="538.51" y="250.71" width="0.9" height="7.57" fill="#089981" opacity=".85"/>
<rect x="538.06" y="254.00" width="1.8" height="3.43" fill="#089981"/>
<rect x="541.27" y="253.57" width="0.9" height="10.00" fill="#F23645" opacity=".85"/>
<rect x="540.82" y="254.29" width="1.8" height="7.14" fill="#F23645"/>
<rect x="544.03" y="256.86" width="0.9" height="7.43" fill="#F23645" opacity=".85"/>
<rect x="543.58" y="257.43" width="1.8" height="4.71" fill="#F23645"/>
<rect x="546.79" y="260.29" width="0.9" height="10.43" fill="#F23645" opacity=".85"/>
<rect x="546.34" y="261.43" width="1.8" height="7.14" fill="#F23645"/>
<rect x="549.55" y="262.86" width="0.9" height="10.29" fill="#F23645" opacity=".85"/>
<rect x="549.10" y="266.43" width="1.8" height="5.71" fill="#F23645"/>
<rect x="552.31" y="260.29" width="0.9" height="10.86" fill="#089981" opacity=".85"/>
<rect x="551.86" y="261.43" width="1.8" height="9.29" fill="#089981"/>
<rect x="555.07" y="257.43" width="0.9" height="5.43" fill="#089981" opacity=".85"/>
<rect x="554.62" y="258.57" width="1.8" height="3.57" fill="#089981"/>
<rect x="557.83" y="255.00" width="0.9" height="9.00" fill="#F23645" opacity=".85"/>
<rect x="557.38" y="257.86" width="1.8" height="5.00" fill="#F23645"/>
<rect x="560.59" y="258.57" width="0.9" height="7.86" fill="#089981" opacity=".85"/>
<rect x="560.14" y="261.43" width="1.8" height="1.43" fill="#089981"/>
<rect x="563.35" y="260.86" width="0.9" height="6.29" fill="#F23645" opacity=".85"/>
<rect x="562.90" y="261.43" width="1.8" height="5.00" fill="#F23645"/>
<rect x="566.11" y="263.57" width="0.9" height="7.14" fill="#F23645" opacity=".85"/>
<rect x="565.66" y="265.43" width="1.8" height="4.57" fill="#F23645"/>
<rect x="568.87" y="266.43" width="0.9" height="5.00" fill="#089981" opacity=".85"/>
<rect x="568.42" y="267.86" width="1.8" height="2.14" fill="#089981"/>
<rect x="571.63" y="263.57" width="0.9" height="5.71" fill="#089981" opacity=".85"/>
<rect x="571.18" y="264.00" width="1.8" height="4.57" fill="#089981"/>
<rect x="574.39" y="262.57" width="0.9" height="3.14" fill="#F23645" opacity=".85"/>
<rect x="573.94" y="263.57" width="1.8" height="1.00" fill="#F23645"/>
<rect x="577.15" y="264.00" width="0.9" height="2.57" fill="#F23645" opacity=".85"/>
<rect x="576.70" y="264.57" width="1.8" height="1.43" fill="#F23645"/>
<rect x="579.91" y="265.00" width="0.9" height="11.00" fill="#F23645" opacity=".85"/>
<rect x="579.46" y="265.43" width="1.8" height="9.57" fill="#F23645"/>
<rect x="582.67" y="272.86" width="0.9" height="8.29" fill="#F23645" opacity=".85"/>
<rect x="582.22" y="274.00" width="1.8" height="2.43" fill="#F23645"/>
<rect x="585.43" y="258.57" width="0.9" height="18.57" fill="#089981" opacity=".85"/>
<rect x="584.98" y="264.29" width="1.8" height="12.14" fill="#089981"/>
<rect x="588.19" y="262.86" width="0.9" height="6.43" fill="#F23645" opacity=".85"/>
<rect x="587.74" y="264.29" width="1.8" height="3.57" fill="#F23645"/>
<rect x="590.95" y="264.57" width="0.9" height="9.00" fill="#F23645" opacity=".85"/>
<rect x="590.50" y="266.00" width="1.8" height="5.43" fill="#F23645"/>
<rect x="593.71" y="265.43" width="0.9" height="14.29" fill="#089981" opacity=".85"/>
<rect x="593.26" y="267.86" width="1.8" height="5.71" fill="#089981"/>
<rect x="596.47" y="262.86" width="0.9" height="10.29" fill="#F23645" opacity=".85"/>
<rect x="596.02" y="267.86" width="1.8" height="4.29" fill="#F23645"/>
<rect x="599.23" y="258.57" width="0.9" height="14.00" fill="#089981" opacity=".85"/>
<rect x="598.78" y="261.43" width="1.8" height="10.29" fill="#089981"/>
<rect x="601.99" y="260.71" width="0.9" height="8.57" fill="#F23645" opacity=".85"/>
<rect x="601.54" y="261.43" width="1.8" height="4.29" fill="#F23645"/>
<rect x="604.75" y="245.71" width="0.9" height="20.29" fill="#089981" opacity=".85"/>
<rect x="604.30" y="250.00" width="1.8" height="13.57" fill="#089981"/>
<rect x="607.51" y="247.43" width="0.9" height="9.00" fill="#F23645" opacity=".85"/>
<rect x="607.06" y="249.71" width="1.8" height="6.00" fill="#F23645"/>
<rect x="610.27" y="253.57" width="0.9" height="11.86" fill="#F23645" opacity=".85"/>
<rect x="609.82" y="255.71" width="1.8" height="8.57" fill="#F23645"/>
<rect x="613.03" y="262.57" width="0.9" height="4.86" fill="#F23645" opacity=".85"/>
<rect x="612.58" y="263.57" width="1.8" height="3.29" fill="#F23645"/>
<rect x="615.79" y="262.86" width="0.9" height="8.57" fill="#F23645" opacity=".85"/>
<rect x="615.34" y="266.00" width="1.8" height="4.71" fill="#F23645"/>
<rect x="618.55" y="260.00" width="0.9" height="11.14" fill="#089981" opacity=".85"/>
<rect x="618.10" y="262.86" width="1.8" height="7.86" fill="#089981"/>
<rect x="621.31" y="252.86" width="0.9" height="10.71" fill="#089981" opacity=".85"/>
<rect x="620.86" y="254.29" width="1.8" height="8.57" fill="#089981"/>
<rect x="624.07" y="254.29" width="0.9" height="7.14" fill="#089981" opacity=".85"/>
<rect x="623.62" y="257.43" width="1.8" height="1.86" fill="#089981"/>
<rect x="626.83" y="255.71" width="0.9" height="4.57" fill="#089981" opacity=".85"/>
<rect x="626.38" y="256.43" width="1.8" height="2.86" fill="#089981"/>
<rect x="629.59" y="246.43" width="0.9" height="11.86" fill="#089981" opacity=".85"/>
<rect x="629.14" y="255.71" width="1.8" height="1.71" fill="#089981"/>
<rect x="632.35" y="253.71" width="0.9" height="3.71" fill="#089981" opacity=".85"/>
<rect x="631.90" y="254.29" width="1.8" height="2.14" fill="#089981"/>
<rect x="635.11" y="248.29" width="0.9" height="7.43" fill="#089981" opacity=".85"/>
<rect x="634.66" y="249.29" width="1.8" height="5.71" fill="#089981"/>
<rect x="637.87" y="242.86" width="0.9" height="7.86" fill="#089981" opacity=".85"/>
<rect x="637.42" y="243.57" width="1.8" height="6.43" fill="#089981"/>
<rect x="640.63" y="240.00" width="0.9" height="7.43" fill="#F23645" opacity=".85"/>
<rect x="640.18" y="242.86" width="1.8" height="4.00" fill="#F23645"/>
<rect x="643.39" y="244.29" width="0.9" height="11.43" fill="#F23645" opacity=".85"/>
<rect x="642.94" y="246.00" width="1.8" height="9.00" fill="#F23645"/>
<rect x="646.15" y="253.57" width="0.9" height="7.86" fill="#F23645" opacity=".85"/>
<rect x="645.70" y="254.00" width="1.8" height="4.57" fill="#F23645"/>
<rect x="648.91" y="254.29" width="0.9" height="6.00" fill="#089981" opacity=".85"/>
<rect x="648.46" y="256.43" width="1.8" height="2.86" fill="#089981"/>
<rect x="651.67" y="255.00" width="0.9" height="7.14" fill="#F23645" opacity=".85"/>
<rect x="651.22" y="256.43" width="1.8" height="5.00" fill="#F23645"/>
<rect x="654.43" y="260.00" width="0.9" height="6.00" fill="#F23645" opacity=".85"/>
<rect x="653.98" y="260.71" width="1.8" height="4.71" fill="#F23645"/>
<rect x="657.19" y="252.86" width="0.9" height="12.86" fill="#089981" opacity=".85"/>
<rect x="656.74" y="254.29" width="1.8" height="10.71" fill="#089981"/>
<rect x="659.95" y="254.29" width="0.9" height="6.43" fill="#F23645" opacity=".85"/>
<rect x="659.50" y="255.00" width="1.8" height="3.29" fill="#F23645"/>
<rect x="662.71" y="252.14" width="0.9" height="6.14" fill="#089981" opacity=".85"/>
<rect x="662.26" y="253.57" width="1.8" height="3.86" fill="#089981"/>
<rect x="665.47" y="253.14" width="0.9" height="10.43" fill="#F23645" opacity=".85"/>
<rect x="665.02" y="254.00" width="1.8" height="8.57" fill="#F23645"/>
<rect x="668.23" y="261.14" width="0.9" height="10.57" fill="#F23645" opacity=".85"/>
<rect x="667.78" y="261.71" width="1.8" height="8.29" fill="#F23645"/>
<rect x="670.99" y="266.43" width="0.9" height="4.29" fill="#F23645" opacity=".85"/>
<rect x="670.54" y="267.86" width="1.8" height="2.14" fill="#F23645"/>
<rect x="673.75" y="267.14" width="0.9" height="6.86" fill="#F23645" opacity=".85"/>
<rect x="673.30" y="268.57" width="1.8" height="3.14" fill="#F23645"/>
<rect x="676.51" y="263.57" width="0.9" height="7.86" fill="#089981" opacity=".85"/>
<rect x="676.06" y="268.29" width="1.8" height="2.43" fill="#089981"/>
<rect x="679.27" y="260.71" width="0.9" height="9.00" fill="#089981" opacity=".85"/>
<rect x="678.82" y="263.57" width="1.8" height="5.29" fill="#089981"/>
<rect x="682.03" y="260.29" width="0.9" height="6.86" fill="#089981" opacity=".85"/>
<rect x="681.58" y="262.86" width="1.8" height="1.43" fill="#089981"/>
<rect x="684.79" y="262.86" width="0.9" height="8.86" fill="#F23645" opacity=".85"/>
<rect x="684.34" y="264.00" width="1.8" height="5.29" fill="#F23645"/>
<rect x="687.55" y="266.00" width="0.9" height="4.00" fill="#089981" opacity=".85"/>
<rect x="687.10" y="266.86" width="1.8" height="2.43" fill="#089981"/>
<rect x="690.31" y="265.71" width="0.9" height="2.57" fill="#089981" opacity=".85"/>
<rect x="689.86" y="266.43" width="1.8" height="1.00" fill="#089981"/>
<rect x="693.07" y="260.71" width="0.9" height="7.86" fill="#089981" opacity=".85"/>
<rect x="692.62" y="261.43" width="1.8" height="5.71" fill="#089981"/>
<rect x="695.83" y="256.86" width="0.9" height="6.71" fill="#F23645" opacity=".85"/>
<rect x="695.38" y="257.43" width="1.8" height="5.43" fill="#F23645"/>
<rect x="698.59" y="250.00" width="0.9" height="15.00" fill="#089981" opacity=".85"/>
<rect x="698.14" y="252.14" width="1.8" height="9.29" fill="#089981"/>
<rect x="701.35" y="249.29" width="0.9" height="7.14" fill="#F23645" opacity=".85"/>
<rect x="700.90" y="251.71" width="1.8" height="4.00" fill="#F23645"/>
<rect x="704.11" y="253.14" width="0.9" height="3.71" fill="#089981" opacity=".85"/>
<rect x="703.66" y="254.00" width="1.8" height="1.71" fill="#089981"/>
<line x1="193.9" y1="85.6" x2="727" y2="254" stroke="#262626" stroke-width="1.75" stroke-linecap="round"/>
</g>
<rect x="0" y="392" width="964" height="33.5" fill="#7E57C2" fill-opacity=".1"/>
<line x1="0" y1="392.0" x2="964" y2="392.0" stroke="#787B86" stroke-width="1" stroke-dasharray="3 3.2" opacity="0.75"/>
<line x1="0" y1="408.2" x2="964" y2="408.2" stroke="#787B86" stroke-width="0.7" stroke-dasharray="3 3.2" opacity="0.50"/>
<line x1="0" y1="425.4" x2="964" y2="425.4" stroke="#787B86" stroke-width="1" stroke-dasharray="3 3.2" opacity="0.80"/>
<polygon points="317,425.5 320,429 323.5,430.5 326,426 326.5,425.5" fill="#FF9800" fill-opacity=".22"/>
<polygon points="514,425.5 516.5,429 519.5,431 522.5,427 526,430.5 528.5,432 530,437 533,425.5" fill="#FF9800" fill-opacity=".22"/>
<path fill="none" stroke="#5DB85A" stroke-width="1" d="M0.0 394.9C2.9 396.7 2.9 397.0 8.8 400.2C14.6 403.4 11.7 402.4 17.6 404.6C23.4 406.8 20.5 405.7 26.4 406.7C32.2 407.8 29.3 407.9 35.1 407.8C41.0 407.7 38.1 407.4 43.9 406.4C49.8 405.3 46.9 405.1 52.7 404.6C58.6 404.1 55.7 404.3 61.5 405.0C67.4 405.7 64.4 405.0 70.3 406.7C76.2 408.5 73.2 408.0 79.1 410.2C84.9 412.5 82.0 411.9 87.9 413.4C93.7 414.9 90.8 414.2 96.7 414.8C102.5 415.4 99.6 415.1 105.4 415.1C111.3 415.1 108.4 415.7 114.2 414.8C120.1 413.9 117.2 414.4 123.0 412.5C128.9 410.6 126.0 411.3 131.8 409.0C137.7 406.7 134.7 407.4 140.6 405.5C146.5 403.6 143.5 403.8 149.4 403.4C155.2 403.0 152.3 403.0 158.2 404.3C164.0 405.5 161.1 405.7 167.0 407.2C172.8 408.8 171.4 408.4 175.7 409.0C180.1 409.6 176.2 409.6 180.0 409.0C183.7 408.4 182.3 409.0 187.0 407.2C191.7 405.5 189.4 405.9 194.1 403.7C198.7 401.6 196.4 401.9 201.1 400.7C205.8 399.6 203.4 400.0 208.1 400.2C212.8 400.4 210.5 399.7 215.1 401.4C219.8 403.2 217.5 402.6 222.2 405.5C226.9 408.4 224.5 407.3 229.2 410.2C233.9 413.2 232.1 412.5 236.2 414.3C240.3 416.1 236.8 415.7 241.5 415.7C246.2 415.7 244.4 415.3 250.3 414.3C256.2 413.2 253.2 413.4 259.1 412.5C264.9 411.6 262.0 411.5 267.9 411.6C273.7 411.8 270.8 412.0 276.7 413.0C282.5 414.1 279.6 413.6 285.4 414.8C291.3 416.0 288.4 415.1 294.2 416.6C300.1 418.0 297.2 417.4 303.0 419.0C308.9 420.6 306.0 419.8 311.8 421.3C317.7 422.8 314.7 422.2 320.6 423.6C326.5 424.9 323.5 424.8 329.4 425.3C335.2 425.9 332.3 425.9 338.2 425.3C344.0 424.8 341.1 425.3 347.0 423.6C352.8 421.8 351.4 421.8 355.7 420.1C360.1 418.3 355.6 420.0 360.0 418.3C364.3 416.7 362.9 416.9 368.8 415.1C374.7 413.4 371.7 413.9 377.6 413.0C383.4 412.2 380.5 412.5 386.4 412.7C392.2 412.9 389.3 413.4 395.1 413.7C401.0 414.1 398.1 413.5 403.9 413.7C409.8 414.0 406.9 414.2 412.7 414.4C418.6 414.7 415.7 415.0 421.5 414.6C427.4 414.3 424.4 414.7 430.3 413.4C436.2 412.1 433.2 412.6 439.1 410.8C444.9 408.9 442.0 409.3 447.9 407.8C453.7 406.2 450.8 407.4 456.7 406.0C462.5 404.7 460.2 405.5 465.4 403.7C470.7 402.0 467.8 401.9 472.5 400.7C477.2 399.6 474.8 399.6 479.5 400.2C484.2 400.8 481.9 401.0 486.5 402.5C491.2 404.0 488.9 403.3 493.6 404.6C498.3 405.9 495.9 404.9 500.6 406.4C505.3 407.8 502.9 406.4 507.6 409.0C512.3 411.6 510.0 410.9 514.7 414.3C519.3 417.6 517.0 416.5 521.7 419.0C526.4 421.5 524.0 420.2 528.7 421.8C533.4 423.5 532.0 423.1 535.7 423.9C539.5 424.8 536.2 423.6 540.0 424.3C543.7 425.0 542.3 425.3 547.0 426.0C551.7 426.8 549.4 427.0 554.1 426.6C558.7 426.2 556.4 426.0 561.1 424.8C565.8 423.6 563.4 424.1 568.1 423.1C572.8 422.1 569.9 422.4 575.1 421.8C580.4 421.2 578.1 421.9 583.9 421.3C589.8 420.7 587.5 420.9 592.7 420.1C598.0 419.2 595.1 420.0 599.8 418.7C604.4 417.3 601.5 417.5 606.8 416.0C612.1 414.6 609.7 415.7 615.6 414.3C621.4 412.8 618.5 413.4 624.4 411.6C630.2 409.9 627.3 410.6 633.1 409.0C639.0 407.4 635.5 407.6 641.9 406.7C648.4 405.8 645.4 406.5 652.5 406.4C659.5 406.2 657.2 405.8 663.0 406.4C668.9 406.9 665.4 406.7 670.1 408.1C674.7 409.6 672.4 409.5 677.1 410.8C681.8 412.0 679.4 411.4 684.1 412.0C688.8 412.6 686.5 412.6 691.1 412.5C695.8 412.4 693.8 412.2 698.2 411.6C702.6 411.0 702.3 411.0 704.3 410.8"/>
<polyline fill="none" stroke="#8E6BCB" stroke-width="1" points="0.0,399.7 5.3,402.0 9.7,411.6 13.7,416.6 17.6,411.6 21.1,409.0 22.8,410.8 27.2,402.8 29.0,405.5 33.4,406.0 36.9,398.5 40.1,400.2 43.1,396.7 46.0,397.6 47.5,404.6 50.1,407.2 54.5,407.8 58.0,409.0 61.2,416.0 64.1,413.4 66.8,415.1 69.9,406.7 72.9,409.9 75.6,412.5 78.2,417.8 81.2,415.1 84.0,414.8 86.1,413.0 88.8,418.3 93.1,417.8 96.3,416.0 100.2,411.6 103.7,412.5 107.2,413.4 111.6,413.0 115.1,410.8 117.4,409.0 121.3,407.2 123.9,402.8 126.5,400.7 130.9,400.2 135.3,402.5 138.8,399.0 142.4,399.7 145.0,399.0 147.6,402.8 152.9,404.6 156.4,412.5 158.2,414.3 160.3,411.3 163.4,420.1 166.1,419.0 169.1,417.8 173.1,408.1 175.7,405.5 177.5,406.4 180.0,397.6 184.4,392.7 188.8,391.4 193.7,389.1 196.2,397.6 199.0,395.8 201.4,399.3 204.6,415.1 207.2,417.8 210.8,410.8 213.4,410.8 218.7,416.9 223.9,421.3 228.3,417.8 232.7,413.0 237.1,417.3 240.6,412.5 245.0,410.2 249.4,405.0 252.9,406.0 255.6,409.0 259.1,415.1 262.6,413.0 267.9,411.3 271.4,416.9 274.6,423.1 277.0,418.7 279.3,421.3 282.8,417.3 285.4,418.3 289.8,412.0 293.4,416.0 296.9,418.7 301.3,424.8 303.9,423.1 306.5,423.9 310.1,426.6 313.6,424.8 318.0,430.1 323.2,431.3 326.7,424.8 329.4,423.1 331.5,424.8 334.7,417.3 338.2,416.0 345.2,417.3 348.7,423.1 351.4,413.4 354.0,409.0 357.5,412.5 360.0,415.1 363.5,414.3 367.0,412.5 370.5,408.5 373.2,409.5 375.8,408.5 379.3,413.4 382.8,414.3 387.2,419.0 389.9,416.0 392.5,418.7 395.1,419.5 397.8,413.7 402.2,412.0 406.6,412.0 410.1,414.3 415.4,415.1 420.6,412.5 423.3,412.5 425.9,414.3 428.5,410.2 430.3,412.5 435.6,406.0 440.8,402.0 445.2,395.8 447.9,396.2 450.5,404.3 454.0,406.0 458.4,407.2 463.7,404.6 467.2,394.9 469.3,391.4 472.5,396.7 476.0,397.2 479.5,400.7 483.9,407.2 486.5,416.9 490.9,413.7 495.3,413.7 499.7,420.1 503.2,414.3 506.7,412.0 509.4,412.5 511.5,421.8 513.8,422.5 516.4,429.2 519.6,431.3 522.6,426.6 526.1,430.1 528.4,431.8 530.1,437.1 533.1,424.3 535.7,423.9 538.4,422.5 540.0,422.2 542.6,423.1 546.2,425.7 549.7,426.0 552.3,421.3 555.8,419.0 561.1,420.4 566.4,423.1 570.8,419.5 576.9,419.5 580.1,423.9 583.1,425.3 585.7,415.1 588.3,416.0 591.0,417.8 593.6,415.1 596.2,416.9 599.8,410.2 602.4,411.3 605.4,403.2 609.4,410.8 612.9,412.5 616.4,414.8 620.0,409.0 623.5,407.2 627.9,406.4 632.3,405.0 638.4,397.9 641.6,402.0 643.7,407.2 646.3,409.0 649.8,408.5 654.2,413.4 657.8,407.2 661.3,407.8 664.4,406.4 668.3,416.0 673.6,416.6 677.1,414.3 680.6,410.8 683.2,411.6 685.9,414.3 690.3,412.5 692.9,407.2 696.1,408.1 699.1,400.2 701.7,402.8 704.3,402.5"/>
<rect x="0" y="389" width="110.8" height="13.8" fill="#FFF59D" fill-opacity=".62"/>
<g clip-path="url(#cpAx)">
<text x="970.5" y="384.1" font-size="9" fill="#131722" text-anchor="start" font-weight="normal" textLength="37.5" lengthAdjust="spacingAndGlyphs" stroke="#131722" stroke-width=".15">30,000.00</text>
<text x="970.5" y="353.4" font-size="9" fill="#131722" text-anchor="start" font-weight="normal" textLength="37.5" lengthAdjust="spacingAndGlyphs" stroke="#131722" stroke-width=".15">40,000.00</text>
<text x="970.5" y="322.6" font-size="9" fill="#131722" text-anchor="start" font-weight="normal" textLength="37.5" lengthAdjust="spacingAndGlyphs" stroke="#131722" stroke-width=".15">50,000.00</text>
<text x="970.5" y="199.6" font-size="9" fill="#131722" text-anchor="start" font-weight="normal" textLength="37.5" lengthAdjust="spacingAndGlyphs" stroke="#131722" stroke-width=".15">90,000.00</text>
<text x="970.8" y="168.9" font-size="9" fill="#131722" text-anchor="start" font-weight="normal" textLength="42.6" lengthAdjust="spacingAndGlyphs" stroke="#131722" stroke-width=".15">100,000.00</text>
<text x="970.8" y="138.1" font-size="9" fill="#131722" text-anchor="start" font-weight="normal" textLength="42.6" lengthAdjust="spacingAndGlyphs" stroke="#131722" stroke-width=".15">110,000.00</text>
<text x="970.8" y="107.4" font-size="9" fill="#131722" text-anchor="start" font-weight="normal" textLength="42.6" lengthAdjust="spacingAndGlyphs" stroke="#131722" stroke-width=".15">120,000.00</text>
<text x="970.8" y="76.7" font-size="9" fill="#131722" text-anchor="start" font-weight="normal" textLength="42.6" lengthAdjust="spacingAndGlyphs" stroke="#131722" stroke-width=".15">130,000.00</text>
<text x="970.8" y="45.9" font-size="9" fill="#131722" text-anchor="start" font-weight="normal" textLength="42.6" lengthAdjust="spacingAndGlyphs" stroke="#131722" stroke-width=".15">140,000.00</text>
<text x="970.8" y="15.1" font-size="9" fill="#131722" text-anchor="start" font-weight="normal" textLength="42.6" lengthAdjust="spacingAndGlyphs" stroke="#131722" stroke-width=".15">150,000.00</text>
</g>
<text x="970.5" y="390.6" font-size="9" fill="#131722" text-anchor="start" font-weight="normal" textLength="21.0" lengthAdjust="spacingAndGlyphs" stroke="#131722" stroke-width=".15">75.00</text>
<text x="970.5" y="432.7" font-size="9" fill="#131722" text-anchor="start" font-weight="normal" textLength="21.0" lengthAdjust="spacingAndGlyphs" stroke="#131722" stroke-width=".15">25.00</text>
<rect x="964.5" y="80.3" width="52.5" height="11.2" rx="1.2" fill="#F23645"/>
<text x="971.1" y="89.0" font-size="9" fill="#fff" text-anchor="start" font-weight="normal" textLength="42.6" lengthAdjust="spacingAndGlyphs" stroke="#fff" stroke-width=".15">126,095.08</text>
<rect x="964.5" y="167.1" width="47.5" height="11.6" rx="1.2" fill="#05B8D6"/>
<text x="971.1" y="176.0" font-size="9" fill="#10141c" text-anchor="start" font-weight="normal" textLength="37.5" lengthAdjust="spacingAndGlyphs" stroke="#10141c" stroke-width=".15">97,895.01</text>
<rect x="964.5" y="207.1" width="47.5" height="12.0" rx="1.2" fill="#1100F0"/>
<text x="971.1" y="215.6" font-size="9" fill="#fff" text-anchor="start" font-weight="normal" textLength="37.5" lengthAdjust="spacingAndGlyphs" stroke="#fff" stroke-width=".15">83,750.80</text>
<rect x="964.5" y="220.0" width="47.5" height="10.9" rx="1.2" fill="#4CAF50"/>
<text x="971.1" y="228.2" font-size="9" fill="#fff" text-anchor="start" font-weight="normal" textLength="37.5" lengthAdjust="spacingAndGlyphs" stroke="#fff" stroke-width=".15">80,778.68</text>
<rect x="964.5" y="236.1" width="47.5" height="10.7" rx="1.2" fill="#05B8D6"/>
<text x="971.1" y="244.5" font-size="9" fill="#10141c" text-anchor="start" font-weight="normal" textLength="37.5" lengthAdjust="spacingAndGlyphs" stroke="#10141c" stroke-width=".15">75,500.77</text>
<rect x="964.5" y="248.8" width="47.5" height="22.4" rx="1.2" fill="#12937E"/>
<text x="971.1" y="257.1" font-size="9" fill="#fff" text-anchor="start" font-weight="normal" textLength="37.5" lengthAdjust="spacingAndGlyphs" stroke="#fff" stroke-width=".15">71,169.59</text>
<text x="971.1" y="267.4" font-size="9" fill="#D5EFE9" text-anchor="start" font-weight="normal" textLength="33.0" lengthAdjust="spacingAndGlyphs" stroke="#D5EFE9" stroke-width=".15">11:07:44</text>
<rect x="923.3" y="248.8" width="41" height="11.9" rx="1.5" fill="#12937E"/>
<text x="926.2" y="257.4" font-size="9" fill="#fff" text-anchor="start" font-weight="normal" textLength="34.1" lengthAdjust="spacingAndGlyphs" stroke="#fff" stroke-width=".15">BTCUSDT</text>
<rect x="964.5" y="271.2" width="47.7" height="11.7" rx="1.2" fill="#F77C0B"/>
<text x="971.1" y="280.2" font-size="9" fill="#fff" text-anchor="start" font-weight="normal" textLength="37.5" lengthAdjust="spacingAndGlyphs" stroke="#fff" stroke-width=".15">70,520.22</text>
<rect x="964.5" y="283.4" width="47.7" height="11.4" rx="1.2" fill="#4CAF50"/>
<text x="971.1" y="292.2" font-size="9" fill="#fff" text-anchor="start" font-weight="normal" textLength="37.5" lengthAdjust="spacingAndGlyphs" stroke="#fff" stroke-width=".15">69,956.86</text>
<rect x="964.5" y="296.2" width="47.7" height="11.1" rx="1.2" fill="#FF0A14"/>
<text x="971.1" y="304.9" font-size="9" fill="#fff" text-anchor="start" font-weight="normal" textLength="37.5" lengthAdjust="spacingAndGlyphs" stroke="#fff" stroke-width=".15">69,217.83</text>
<rect x="964.5" y="370.0" width="33.0" height="11.6" rx="1.2" fill="#26A69A"/>
<text x="971.1" y="378.9" font-size="9" fill="#fff" text-anchor="start" font-weight="normal" textLength="21.5" lengthAdjust="spacingAndGlyphs" stroke="#fff" stroke-width=".15">7.07&#8201;K</text>
<rect x="964.5" y="397.6" width="30.5" height="11.4" rx="1.2" fill="#7E57C2"/>
<text x="971.1" y="406.4" font-size="9" fill="#fff" text-anchor="start" font-weight="normal" textLength="19.5" lengthAdjust="spacingAndGlyphs" stroke="#fff" stroke-width=".15">56.50</text>
<rect x="964.5" y="409.0" width="30.5" height="11.7" rx="1.2" fill="#4CAF50"/>
<text x="971.1" y="418.0" font-size="9" fill="#fff" text-anchor="start" font-weight="normal" textLength="19.5" lengthAdjust="spacingAndGlyphs" stroke="#fff" stroke-width=".15">47.45</text>
<text x="4.9" y="455.8" font-size="9" fill="#131722" text-anchor="start" font-weight="normal" textLength="14.0" lengthAdjust="spacingAndGlyphs" stroke="#131722" stroke-width=".15">Aug</text>
<text x="90.7" y="455.8" font-size="9" fill="#131722" text-anchor="start" font-weight="normal" textLength="13.5" lengthAdjust="spacingAndGlyphs" stroke="#131722" stroke-width=".15">Sep</text>
<text x="173.5" y="455.8" font-size="9" fill="#131722" text-anchor="start" font-weight="normal" textLength="13.5" lengthAdjust="spacingAndGlyphs" stroke="#131722" stroke-width=".15">Oct</text>
<text x="259.1" y="455.8" font-size="9" fill="#131722" text-anchor="start" font-weight="normal" textLength="13.5" lengthAdjust="spacingAndGlyphs" stroke="#131722" stroke-width=".15">Nov</text>
<text x="341.9" y="455.8" font-size="9" fill="#131722" text-anchor="start" font-weight="normal" textLength="13.5" lengthAdjust="spacingAndGlyphs" stroke="#131722" stroke-width=".15">Dec</text>
<text x="424.2" y="455.8" font-size="9" fill="#131722" text-anchor="start" font-weight="bold" textLength="20.0" lengthAdjust="spacingAndGlyphs" stroke="#131722" stroke-width=".15">2026</text>
<text x="513.0" y="455.8" font-size="9" fill="#131722" text-anchor="start" font-weight="normal" textLength="13.5" lengthAdjust="spacingAndGlyphs" stroke="#131722" stroke-width=".15">Feb</text>
<text x="590.3" y="455.8" font-size="9" fill="#131722" text-anchor="start" font-weight="normal" textLength="13.5" lengthAdjust="spacingAndGlyphs" stroke="#131722" stroke-width=".15">Mar</text>
<text x="676.1" y="455.8" font-size="9" fill="#131722" text-anchor="start" font-weight="normal" textLength="13.0" lengthAdjust="spacingAndGlyphs" stroke="#131722" stroke-width=".15">Apr</text>
<text x="757.9" y="455.8" font-size="9" fill="#131722" text-anchor="start" font-weight="normal" textLength="15.0" lengthAdjust="spacingAndGlyphs" stroke="#131722" stroke-width=".15">May</text>
<text x="844.4" y="455.8" font-size="9" fill="#131722" text-anchor="start" font-weight="normal" textLength="13.0" lengthAdjust="spacingAndGlyphs" stroke="#131722" stroke-width=".15">Jun</text>
<text x="928.5" y="455.8" font-size="9" fill="#131722" text-anchor="start" font-weight="normal" textLength="10.5" lengthAdjust="spacingAndGlyphs" stroke="#131722" stroke-width=".15">Jul</text>
<g transform="translate(992.2,453.4)" fill="none" stroke="#131722" stroke-width="1.1"><path d="M-2.6 -4.3H2.6L5.1 0L2.6 4.3H-2.6L-5.1 0Z" stroke-linejoin="round"/><circle r="1.5"/></g>
<circle cx="8.7" cy="10.8" r="6.45" fill="#F7931A"/>
<g transform="rotate(13 8.9 11)"><text x="8.9" y="13.7" font-size="7.6" font-weight="bold" fill="#fff" text-anchor="middle">B</text><path d="M7.9 7.2V8.4M9.5 7.2V8.4M7.9 13.6V14.8M9.5 13.6V14.8" stroke="#fff" stroke-width=".8" fill="none"/></g>
<text x="18.7" y="15.1" font-size="10.5" fill="#131722" text-anchor="start" font-weight="normal" textLength="163.3" lengthAdjust="spacingAndGlyphs" stroke="#131722" stroke-width=".3">Bitcoin / TetherUS &#183; 1D &#183; Binance</text>
<circle cx="194.5" cy="11" r="6.2" fill="#089981" fill-opacity=".2"/><circle cx="194.5" cy="11" r="2.7" fill="#0B6E5F"/>
<text x="206.9" y="14.4" font-size="9" textLength="47.6" lengthAdjust="spacingAndGlyphs"><tspan fill="#131722">O</tspan><tspan fill="#089981" dx=".6">71,069.93</tspan></text>
<text x="259.7" y="14.4" font-size="9" textLength="46.5" lengthAdjust="spacingAndGlyphs"><tspan fill="#131722">H</tspan><tspan fill="#089981" dx=".6">71,575.00</tspan></text>
<text x="311.7" y="14.4" font-size="9" textLength="45.4" lengthAdjust="spacingAndGlyphs"><tspan fill="#131722">L</tspan><tspan fill="#089981" dx=".6">70,466.00</tspan></text>
<text x="362.1" y="14.4" font-size="9" textLength="46.8" lengthAdjust="spacingAndGlyphs"><tspan fill="#131722">C</tspan><tspan fill="#089981" dx=".6">71,169.59</tspan></text>
<text x="414.0" y="14.4" font-size="9" fill="#089981" text-anchor="start" font-weight="normal" textLength="27.0" lengthAdjust="spacingAndGlyphs" stroke="#089981" stroke-width=".15">+99.66</text>
<text x="444.8" y="14.4" font-size="9" fill="#089981" text-anchor="start" font-weight="normal" textLength="34.4" lengthAdjust="spacingAndGlyphs" stroke="#089981" stroke-width=".15">(+0.14%)</text>
<rect x="2.4" y="22.6" width="57" height="23.6" rx="3.5" fill="#fff" stroke="#F23645" stroke-width="1"/>
<text x="10.7" y="32.6" font-size="9" fill="#F23645" text-anchor="start" font-weight="bold" textLength="40.5" lengthAdjust="spacingAndGlyphs" stroke="#F23645" stroke-width=".15">71,169.58</text>
<text x="22.2" y="42.3" font-size="8.2" fill="#F23645" text-anchor="start" font-weight="normal" textLength="16.7" lengthAdjust="spacingAndGlyphs" stroke="#F23645" stroke-width=".15">SELL</text>
<text x="65.1" y="36.4" font-size="7.6" fill="#131722" text-anchor="start" font-weight="normal" textLength="13.4" lengthAdjust="spacingAndGlyphs" stroke="#131722" stroke-width=".15">0.01</text>
<rect x="85.2" y="22.6" width="56.6" height="23.6" rx="3.5" fill="#fff" stroke="#2962FF" stroke-width="1"/>
<text x="93.0" y="32.8" font-size="9" fill="#2962FF" text-anchor="start" font-weight="bold" textLength="40.4" lengthAdjust="spacingAndGlyphs" stroke="#2962FF" stroke-width=".15">71,169.59</text>
<text x="105.7" y="42.0" font-size="8.2" fill="#2962FF" text-anchor="start" font-weight="normal" textLength="14.9" lengthAdjust="spacingAndGlyphs" stroke="#2962FF" stroke-width=".15">BUY</text>
<text x="2.8" y="61.0" font-size="9" fill="#131722" text-anchor="start" font-weight="normal" textLength="37.1" lengthAdjust="spacingAndGlyphs" stroke="#131722" stroke-width=".15">Vol &#183; BTC</text>
<text x="46.6" y="61.0" font-size="9" fill="#26A69A" text-anchor="start" font-weight="normal" textLength="24.0" lengthAdjust="spacingAndGlyphs" stroke="#26A69A" stroke-width=".15">7.07&#8201;K</text>
<text x="2.5" y="77.9" font-size="9" fill="#131722" text-anchor="start" font-weight="normal" textLength="81.8" lengthAdjust="spacingAndGlyphs" stroke="#131722" stroke-width=".15">EMA 20/50/100/200</text>
<text x="90.8" y="77.9" font-size="9" fill="#F23030" text-anchor="start" font-weight="normal" textLength="40.3" lengthAdjust="spacingAndGlyphs" stroke="#F23030" stroke-width=".15">69,217.83</text>
<text x="136.2" y="77.9" font-size="9" fill="#FF9800" text-anchor="start" font-weight="normal" textLength="40.0" lengthAdjust="spacingAndGlyphs" stroke="#FF9800" stroke-width=".15">70,520.22</text>
<text x="181.5" y="77.9" font-size="9" fill="#1E1EE0" text-anchor="start" font-weight="normal" textLength="40.5" lengthAdjust="spacingAndGlyphs" stroke="#1E1EE0" stroke-width=".15">83,750.80</text>
<rect x="2.6" y="86" width="20" height="14.4" rx="2.5" fill="#FFF59D" fill-opacity=".55" stroke="#E2DCB0" stroke-width="1"/>
<path d="M9 94.1L12.2 91.6L15.3 94" fill="none" stroke="#2A2A2A" stroke-width="1.25"/>
<text x="2.6" y="397.6" font-size="9" fill="#131722" text-anchor="start" font-weight="normal" textLength="11.4" lengthAdjust="spacingAndGlyphs" stroke="#131722" stroke-width=".15">RSI</text>
<text x="17.6" y="397.6" font-size="9" fill="#6F6A55" text-anchor="start" font-weight="normal" textLength="32.6" lengthAdjust="spacingAndGlyphs" stroke="#6F6A55" stroke-width=".15">14 close</text>
<text x="56.9" y="397.6" font-size="9" fill="#8E6BCB" text-anchor="start" font-weight="normal" textLength="21.4" lengthAdjust="spacingAndGlyphs" stroke="#8E6BCB" stroke-width=".15">56.50</text>
<text x="83.8" y="397.6" font-size="9" fill="#5DB85A" text-anchor="start" font-weight="normal" textLength="22.6" lengthAdjust="spacingAndGlyphs" stroke="#5DB85A" stroke-width=".15">47.45</text>
<text x="428.7" y="296.4" font-size="9" fill="#fff" text-anchor="start" font-weight="normal" textLength="60.2" lengthAdjust="spacingAndGlyphs" stroke="#fff" stroke-width=".3">Demand Zone</text>
<g stroke="#fff" stroke-width="2.4" stroke-linejoin="round" fill="#fff"><path d="M5 422.8H13.6V433H9.2V426.9H5Z"/><circle cx="16.6" cy="424.9" r="2.1"/><path d="M21.4 422.8H26L21.7 433H17.1Z"/></g>
<g fill="#131722"><path d="M5 422.8H13.6V433H9.2V426.9H5Z"/><circle cx="16.6" cy="424.9" r="2.1"/><path d="M21.4 422.8H26L21.7 433H17.1Z"/></g>
<text x="31" y="433.2" font-size="15" font-weight="bold" fill="#131722" stroke="#fff" stroke-width="2.4" stroke-linejoin="round" textLength="86" lengthAdjust="spacingAndGlyphs">TradingView</text>
<text x="31" y="433.2" font-size="15" font-weight="bold" fill="#131722" textLength="86" lengthAdjust="spacingAndGlyphs">TradingView</text>
</svg>
</body></html>
